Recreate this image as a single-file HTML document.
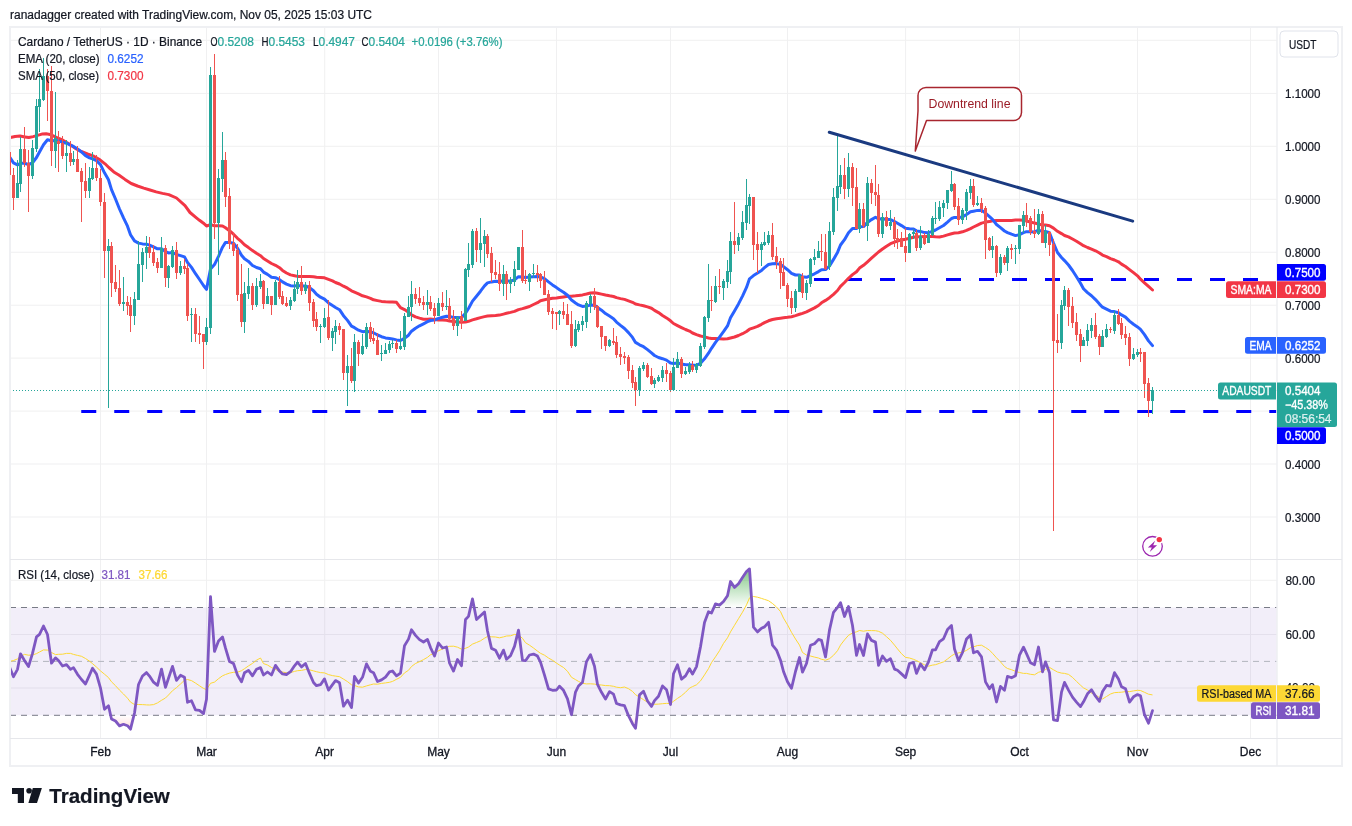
<!DOCTYPE html><html><head><meta charset="utf-8"><title>chart</title><style>html,body{margin:0;padding:0;background:#fff}body{width:1352px;height:826px;overflow:hidden;font-family:"Liberation Sans",sans-serif}svg{-webkit-font-smoothing:antialiased;will-change:transform}</style></head><body><svg width="1352" height="826" viewBox="0 0 1352 826" style="display:block"><defs><clipPath id="mp"><rect x="10" y="27" width="1266.5" height="532"/></clipPath><clipPath id="rp"><rect x="10" y="560" width="1266.5" height="178"/></clipPath><clipPath id="obc"><rect x="10" y="560" width="1266.5" height="47.5"/></clipPath><clipPath id="osc"><rect x="10" y="715.3" width="1266.5" height="23"/></clipPath><linearGradient id="ob" gradientUnits="userSpaceOnUse" x1="0" y1="566" x2="0" y2="607.5"><stop offset="0" stop-color="#4caf50" stop-opacity="0.75"/><stop offset="1" stop-color="#4caf50" stop-opacity="0.0"/></linearGradient><linearGradient id="os" gradientUnits="userSpaceOnUse" x1="0" y1="715.3" x2="0" y2="738"><stop offset="0" stop-color="#ff5252" stop-opacity="0.0"/><stop offset="1" stop-color="#ff5252" stop-opacity="0.35"/></linearGradient></defs><rect width="1352" height="826" fill="#fff"/><text x="10" y="19" font-family="Liberation Sans, sans-serif" font-size="12" fill="#131722" stroke="#131722" stroke-width="0.22" textLength="362" lengthAdjust="spacingAndGlyphs">ranadagger created with TradingView.com, Nov 05, 2025 15:03 UTC</text><rect x="100.0" y="27" width="1" height="711.5" fill="#f0f0f1"/><rect x="206.0" y="27" width="1" height="711.5" fill="#f0f0f1"/><rect x="324.2" y="27" width="1" height="711.5" fill="#f0f0f1"/><rect x="438.0" y="27" width="1" height="711.5" fill="#f0f0f1"/><rect x="556.0" y="27" width="1" height="711.5" fill="#f0f0f1"/><rect x="670.0" y="27" width="1" height="711.5" fill="#f0f0f1"/><rect x="787.0" y="27" width="1" height="711.5" fill="#f0f0f1"/><rect x="905.1" y="27" width="1" height="711.5" fill="#f0f0f1"/><rect x="1019.0" y="27" width="1" height="711.5" fill="#f0f0f1"/><rect x="1137.0" y="27" width="1" height="711.5" fill="#f0f0f1"/><rect x="1250.0" y="27" width="1" height="711.5" fill="#f0f0f1"/><rect x="10" y="39.80" width="1266.5" height="1" fill="#f0f0f1"/><rect x="10" y="92.90" width="1266.5" height="1" fill="#f0f0f1"/><rect x="10" y="145.80" width="1266.5" height="1" fill="#f0f0f1"/><rect x="10" y="198.80" width="1266.5" height="1" fill="#f0f0f1"/><rect x="10" y="251.75" width="1266.5" height="1" fill="#f0f0f1"/><rect x="10" y="304.70" width="1266.5" height="1" fill="#f0f0f1"/><rect x="10" y="357.60" width="1266.5" height="1" fill="#f0f0f1"/><rect x="10" y="410.60" width="1266.5" height="1" fill="#f0f0f1"/><rect x="10" y="463.50" width="1266.5" height="1" fill="#f0f0f1"/><rect x="10" y="516.50" width="1266.5" height="1" fill="#f0f0f1"/><rect x="10" y="579.80" width="1266.5" height="1" fill="#f0f0f1"/><rect x="10" y="634.00" width="1266.5" height="1" fill="#f0f0f1"/><rect x="10" y="687.50" width="1266.5" height="1" fill="#f0f0f1"/><rect x="10" y="607.5" width="1266.5" height="107.8" fill="#7e57c2" fill-opacity="0.1"/><line x1="10" x2="1276.5" y1="607.5" y2="607.5" stroke="#787b86" stroke-width="1" stroke-dasharray="6,5"/><line x1="10" x2="1276.5" y1="661.4" y2="661.4" stroke="#b2b5be" stroke-width="1" stroke-dasharray="6,5"/><line x1="10" x2="1276.5" y1="715.3" y2="715.3" stroke="#787b86" stroke-width="1" stroke-dasharray="6,5"/><g clip-path="url(#mp)"><line x1="81.25" x2="1276.5" y1="411.4" y2="411.4" stroke="#0000ff" stroke-width="3" stroke-dasharray="15,18"/><line x1="814" x2="1258" y1="279.6" y2="279.6" stroke="#0000ff" stroke-width="3" stroke-dasharray="15,18"/><path d="M10.4,137.5 L15.0,136.5 L20.0,136.0 L25.0,136.9 L28.8,137.5 L33.1,136.6 L37.5,135.4 L41.9,134.1 L46.2,133.8 L50.0,134.4 L53.8,136.2 L58.8,138.5 L62.5,140.0 L68.8,143.8 L75.0,148.1 L81.2,151.5 L87.5,154.0 L93.8,156.2 L100.0,159.8 L105.0,163.8 L108.8,167.5 L113.8,171.9 L118.8,175.0 L125.0,179.4 L131.2,183.5 L137.5,186.0 L143.8,188.1 L150.0,190.0 L156.2,191.9 L162.5,193.4 L168.8,194.6 L176.5,198.0 L185.0,205.6 L190.0,212.5 L195.5,217.1 L199.5,220.3 L203.5,223.2 L206.5,226.0 L210.5,224.6 L214.5,225.7 L218.5,225.8 L222.5,226.0 L225.5,227.8 L229.5,230.7 L233.5,234.2 L237.5,238.3 L241.5,241.7 L244.5,244.8 L248.5,247.6 L252.5,250.6 L256.5,253.3 L260.5,255.7 L263.5,258.5 L267.5,261.0 L271.5,263.5 L275.5,265.3 L279.5,267.7 L282.5,270.4 L286.5,273.0 L290.5,274.9 L294.5,275.7 L297.5,276.4 L301.5,276.6 L305.5,276.5 L309.5,276.5 L313.5,276.8 L316.5,277.3 L320.5,277.4 L324.5,277.8 L328.5,279.3 L332.5,280.9 L335.5,282.5 L339.5,284.0 L343.5,286.2 L347.5,288.2 L351.5,290.8 L354.5,292.1 L358.5,293.9 L362.5,295.8 L366.5,296.9 L370.5,298.3 L373.5,299.8 L377.5,300.6 L381.5,301.4 L385.5,301.7 L389.5,301.9 L392.5,301.9 L396.5,302.3 L400.5,307.7 L404.5,309.6 L408.5,312.2 L411.5,314.9 L415.5,316.9 L419.5,318.1 L423.5,319.2 L427.5,319.3 L430.5,319.1 L434.5,319.5 L438.5,319.9 L442.5,319.9 L446.5,320.3 L449.5,321.1 L453.5,321.5 L457.5,321.9 L461.5,322.3 L465.5,322.0 L468.5,321.3 L472.5,319.9 L476.5,318.8 L480.5,317.6 L484.5,316.6 L487.5,316.0 L491.5,315.7 L495.5,315.5 L499.5,315.1 L503.5,314.1 L506.5,313.3 L510.5,312.4 L514.5,311.4 L518.5,309.6 L522.5,308.6 L525.5,307.7 L529.5,306.5 L533.5,304.5 L537.5,302.7 L540.5,300.7 L544.5,299.8 L548.5,298.9 L552.5,298.3 L556.5,298.0 L559.5,297.5 L563.5,296.9 L567.5,296.3 L571.5,296.2 L575.5,295.8 L578.5,295.4 L582.5,294.9 L586.5,294.0 L590.5,293.0 L594.5,292.8 L597.5,293.2 L601.5,294.1 L605.5,295.0 L609.5,295.8 L613.5,296.5 L616.5,297.6 L620.5,298.6 L624.5,299.4 L628.5,300.8 L632.5,302.3 L635.5,304.0 L639.5,304.9 L643.5,305.7 L647.5,306.9 L651.5,308.2 L654.5,310.4 L658.5,312.6 L662.5,315.4 L666.5,317.9 L670.5,320.8 L673.5,323.5 L677.5,325.6 L681.5,327.6 L685.5,329.5 L689.5,331.1 L692.5,333.0 L696.5,334.6 L700.5,336.0 L704.5,336.9 L708.5,338.0 L711.5,338.4 L715.5,338.5 L719.5,338.7 L723.5,338.9 L727.5,338.8 L730.5,338.0 L734.5,337.0 L738.5,335.5 L742.5,333.7 L746.5,331.5 L749.5,329.2 L753.5,327.8 L757.5,326.4 L761.5,324.3 L764.5,322.6 L768.5,320.8 L772.5,319.5 L776.5,318.7 L780.5,318.2 L783.5,317.8 L787.5,317.3 L791.5,316.7 L795.5,315.6 L799.5,314.3 L802.5,313.3 L806.5,311.8 L810.5,309.9 L814.5,307.9 L818.5,305.5 L821.5,302.8 L825.5,300.4 L829.5,297.7 L833.5,294.3 L837.5,290.5 L840.5,286.3 L844.5,282.5 L848.5,278.3 L852.5,274.6 L856.5,271.7 L859.5,268.1 L863.5,265.3 L867.5,261.8 L871.5,258.2 L875.5,254.7 L878.5,252.0 L882.5,249.0 L886.5,246.2 L890.5,243.7 L894.5,242.2 L897.5,241.0 L901.5,239.9 L905.5,239.2 L909.5,238.2 L913.5,237.2 L916.5,236.8 L920.5,236.7 L924.5,236.6 L928.5,236.6 L932.5,236.5 L935.5,236.8 L939.5,237.0 L943.5,236.1 L947.5,234.9 L951.5,233.7 L954.5,233.0 L958.5,232.7 L962.5,231.8 L966.5,230.4 L970.5,228.6 L973.5,227.0 L977.5,225.1 L981.5,223.1 L985.5,222.1 L989.5,221.6 L992.5,220.7 L996.5,220.5 L1000.5,220.4 L1004.5,220.5 L1007.5,220.5 L1011.5,220.4 L1015.5,220.0 L1019.5,219.9 L1023.5,220.3 L1026.5,221.0 L1030.5,222.1 L1034.5,223.0 L1038.5,224.0 L1042.5,225.1 L1045.5,225.1 L1049.5,225.8 L1053.5,228.1 L1057.5,231.3 L1061.5,233.6 L1064.5,235.5 L1068.5,236.9 L1072.5,239.0 L1076.5,241.2 L1080.5,243.7 L1083.5,245.7 L1087.5,247.5 L1091.5,249.1 L1095.5,250.8 L1099.5,253.0 L1102.5,255.1 L1106.5,256.7 L1110.5,258.6 L1114.5,260.0 L1118.5,261.8 L1121.5,264.1 L1125.5,266.5 L1129.5,269.6 L1133.5,272.6 L1137.5,275.8 L1140.5,279.2 L1144.5,282.8 L1148.5,286.4 L1152.5,290.0" fill="none" stroke="#f23645" stroke-width="3" stroke-linejoin="round" stroke-linecap="round"/><path d="M10.0,157.5 L13.5,162.8 L17.5,164.8 L20.5,163.3 L24.5,163.2 L28.5,164.5 L32.5,162.9 L36.5,157.5 L39.5,152.0 L43.5,144.8 L47.5,139.7 L51.5,140.7 L55.5,140.5 L58.5,140.8 L62.5,142.2 L66.5,143.2 L70.5,145.1 L73.5,146.4 L77.5,148.9 L81.5,152.0 L85.5,155.7 L89.5,157.8 L92.5,158.8 L96.5,160.6 L100.5,164.6 L104.5,172.8 L108.5,179.8 L111.5,189.6 L115.5,199.0 L119.5,209.0 L123.5,217.9 L127.5,226.2 L130.5,234.8 L134.5,240.9 L138.5,243.1 L142.5,243.9 L146.5,244.3 L149.5,245.1 L153.5,246.8 L157.5,248.8 L161.5,248.7 L165.5,251.5 L168.5,252.9 L172.5,252.6 L176.5,254.5 L180.5,255.6 L184.5,256.9 L187.5,262.5 L191.5,267.4 L195.5,273.7 L199.5,279.5 L203.5,285.5 L206.5,289.4 L210.5,269.0 L214.5,264.6 L218.5,256.3 L222.5,247.2 L225.5,242.4 L229.5,242.5 L233.5,243.3 L237.5,248.2 L241.5,255.2 L244.5,258.8 L248.5,261.4 L252.5,265.5 L256.5,267.5 L260.5,268.8 L263.5,272.1 L267.5,274.4 L271.5,277.3 L275.5,277.7 L279.5,279.6 L282.5,281.9 L286.5,284.1 L290.5,285.7 L294.5,285.9 L297.5,285.6 L301.5,286.1 L305.5,286.0 L309.5,287.6 L313.5,290.7 L316.5,294.2 L320.5,297.2 L324.5,299.2 L328.5,302.9 L332.5,305.6 L335.5,307.5 L339.5,309.7 L343.5,315.7 L347.5,320.4 L351.5,326.2 L354.5,327.7 L358.5,330.2 L362.5,331.7 L366.5,331.3 L370.5,332.0 L373.5,332.8 L377.5,335.0 L381.5,336.7 L385.5,337.9 L389.5,338.5 L392.5,338.9 L396.5,339.9 L400.5,340.5 L404.5,338.2 L408.5,335.2 L411.5,331.2 L415.5,328.2 L419.5,325.8 L423.5,323.8 L427.5,321.7 L430.5,320.5 L434.5,320.0 L438.5,318.4 L442.5,317.3 L446.5,316.2 L449.5,316.5 L453.5,317.4 L457.5,317.4 L461.5,317.8 L465.5,313.1 L468.5,308.5 L472.5,301.1 L476.5,296.2 L480.5,291.2 L484.5,285.9 L487.5,282.9 L491.5,281.9 L495.5,281.3 L499.5,281.5 L503.5,280.8 L506.5,281.1 L510.5,281.0 L514.5,279.9 L518.5,276.7 L522.5,277.1 L525.5,277.5 L529.5,277.1 L533.5,276.7 L537.5,276.6 L540.5,277.0 L544.5,278.7 L548.5,281.9 L552.5,284.9 L556.5,287.6 L559.5,289.8 L563.5,292.2 L567.5,295.3 L571.5,300.1 L575.5,302.9 L578.5,304.9 L582.5,306.4 L586.5,306.1 L590.5,305.1 L594.5,305.3 L597.5,307.4 L601.5,310.2 L605.5,313.6 L609.5,316.1 L613.5,318.7 L616.5,322.1 L620.5,325.4 L624.5,328.5 L628.5,332.6 L632.5,337.4 L635.5,342.4 L639.5,344.8 L643.5,346.7 L647.5,349.6 L651.5,352.9 L654.5,355.5 L658.5,357.5 L662.5,358.7 L666.5,360.1 L670.5,363.0 L673.5,363.4 L677.5,363.0 L681.5,364.0 L685.5,364.7 L689.5,364.7 L692.5,365.2 L696.5,365.1 L700.5,363.3 L704.5,358.8 L708.5,353.2 L711.5,348.3 L715.5,342.3 L719.5,337.1 L723.5,331.7 L727.5,325.9 L730.5,317.8 L734.5,310.9 L738.5,303.9 L742.5,296.1 L746.5,287.4 L749.5,278.8 L753.5,275.6 L757.5,273.1 L761.5,270.4 L764.5,267.7 L768.5,264.5 L772.5,263.8 L776.5,263.6 L780.5,264.5 L783.5,266.6 L787.5,269.7 L791.5,273.3 L795.5,275.0 L799.5,275.0 L802.5,276.7 L806.5,277.3 L810.5,275.6 L814.5,273.8 L818.5,271.6 L821.5,269.7 L825.5,269.6 L829.5,266.0 L833.5,259.4 L837.5,252.4 L840.5,245.0 L844.5,239.7 L848.5,232.8 L852.5,228.5 L856.5,228.5 L859.5,226.7 L863.5,226.6 L867.5,222.4 L871.5,219.6 L875.5,217.3 L878.5,218.9 L882.5,218.7 L886.5,219.4 L890.5,219.6 L894.5,221.5 L897.5,223.3 L901.5,225.6 L905.5,228.2 L909.5,228.7 L913.5,229.1 L916.5,230.9 L920.5,231.4 L924.5,232.6 L928.5,232.7 L932.5,231.3 L935.5,230.0 L939.5,227.8 L943.5,225.5 L947.5,222.1 L951.5,218.5 L954.5,217.4 L958.5,217.6 L962.5,216.9 L966.5,214.5 L970.5,211.8 L973.5,211.2 L977.5,210.4 L981.5,210.2 L985.5,213.1 L989.5,216.6 L992.5,219.4 L996.5,224.5 L1000.5,227.6 L1004.5,231.0 L1007.5,232.6 L1011.5,234.2 L1015.5,235.6 L1019.5,234.6 L1023.5,232.7 L1026.5,231.7 L1030.5,231.7 L1034.5,231.9 L1038.5,230.2 L1042.5,231.4 L1045.5,231.4 L1049.5,232.7 L1053.5,243.0 L1057.5,252.5 L1061.5,257.5 L1064.5,260.6 L1068.5,265.0 L1072.5,270.5 L1076.5,276.7 L1080.5,283.3 L1083.5,288.7 L1087.5,292.6 L1091.5,295.7 L1095.5,299.6 L1099.5,304.1 L1102.5,307.2 L1106.5,309.2 L1110.5,311.2 L1114.5,311.6 L1118.5,312.8 L1121.5,314.9 L1125.5,317.1 L1129.5,321.1 L1133.5,324.2 L1137.5,326.9 L1140.5,329.4 L1144.5,334.6 L1148.5,340.9 L1152.5,345.6" fill="none" stroke="#2962ff" stroke-width="3" stroke-linejoin="round" stroke-linecap="round"/><rect x="9.0" y="152" width="1" height="23" fill="#ef5350"/><rect x="8.0" y="152" width="3" height="23" fill="#ef5350"/><rect x="13.0" y="168" width="1" height="42" fill="#ef5350"/><rect x="12.0" y="175" width="3" height="23" fill="#ef5350"/><rect x="17.0" y="160" width="1" height="38" fill="#26a69a"/><rect x="16.0" y="183" width="3" height="15" fill="#26a69a"/><rect x="20.0" y="137" width="1" height="55" fill="#26a69a"/><rect x="19.0" y="149" width="3" height="35" fill="#26a69a"/><rect x="24.0" y="127" width="1" height="40" fill="#ef5350"/><rect x="23.0" y="149" width="3" height="14" fill="#ef5350"/><rect x="28.0" y="150" width="1" height="62" fill="#ef5350"/><rect x="27.0" y="163" width="3" height="13" fill="#ef5350"/><rect x="32.0" y="140" width="1" height="39" fill="#26a69a"/><rect x="31.0" y="148" width="3" height="28" fill="#26a69a"/><rect x="36.0" y="99" width="1" height="53" fill="#26a69a"/><rect x="35.0" y="106" width="3" height="43" fill="#26a69a"/><rect x="39.0" y="69" width="1" height="63" fill="#26a69a"/><rect x="38.0" y="99" width="3" height="8" fill="#26a69a"/><rect x="43.0" y="58" width="1" height="43" fill="#26a69a"/><rect x="42.0" y="76" width="3" height="24" fill="#26a69a"/><rect x="47.0" y="69" width="1" height="52" fill="#ef5350"/><rect x="46.0" y="76" width="3" height="15" fill="#ef5350"/><rect x="51.0" y="66" width="1" height="100" fill="#ef5350"/><rect x="50.0" y="91" width="3" height="60" fill="#ef5350"/><rect x="55.0" y="92" width="1" height="76" fill="#26a69a"/><rect x="54.0" y="138" width="3" height="13" fill="#26a69a"/><rect x="58.0" y="131" width="1" height="41" fill="#ef5350"/><rect x="57.0" y="141" width="3" height="3" fill="#ef5350"/><rect x="62.0" y="136" width="1" height="23" fill="#ef5350"/><rect x="61.0" y="143" width="3" height="13" fill="#ef5350"/><rect x="66.0" y="140" width="1" height="32" fill="#26a69a"/><rect x="65.0" y="153" width="3" height="3" fill="#26a69a"/><rect x="70.0" y="141" width="1" height="25" fill="#ef5350"/><rect x="69.0" y="153" width="3" height="9" fill="#ef5350"/><rect x="73.0" y="151" width="1" height="14" fill="#26a69a"/><rect x="72.0" y="159" width="3" height="3" fill="#26a69a"/><rect x="77.0" y="146" width="1" height="26" fill="#ef5350"/><rect x="76.0" y="159" width="3" height="13" fill="#ef5350"/><rect x="81.0" y="168" width="1" height="54" fill="#ef5350"/><rect x="80.0" y="171" width="3" height="11" fill="#ef5350"/><rect x="85.0" y="163" width="1" height="35" fill="#ef5350"/><rect x="84.0" y="181" width="3" height="10" fill="#ef5350"/><rect x="89.0" y="167" width="1" height="31" fill="#26a69a"/><rect x="88.0" y="178" width="3" height="13" fill="#26a69a"/><rect x="92.0" y="152" width="1" height="28" fill="#26a69a"/><rect x="91.0" y="168" width="3" height="11" fill="#26a69a"/><rect x="96.0" y="155" width="1" height="26" fill="#ef5350"/><rect x="95.0" y="168" width="3" height="10" fill="#ef5350"/><rect x="100.0" y="169" width="1" height="37" fill="#ef5350"/><rect x="99.0" y="178" width="3" height="24" fill="#ef5350"/><rect x="104.0" y="193" width="1" height="85" fill="#ef5350"/><rect x="103.0" y="202" width="3" height="49" fill="#ef5350"/><rect x="108.0" y="239" width="1" height="169" fill="#26a69a"/><rect x="107.0" y="246" width="3" height="5" fill="#26a69a"/><rect x="111.0" y="242" width="1" height="55" fill="#ef5350"/><rect x="110.0" y="246" width="3" height="37" fill="#ef5350"/><rect x="115.0" y="265" width="1" height="27" fill="#ef5350"/><rect x="114.0" y="282" width="3" height="7" fill="#ef5350"/><rect x="119.0" y="270" width="1" height="36" fill="#ef5350"/><rect x="118.0" y="288" width="3" height="16" fill="#ef5350"/><rect x="123.0" y="277" width="1" height="34" fill="#26a69a"/><rect x="122.0" y="302" width="3" height="2" fill="#26a69a"/><rect x="127.0" y="296" width="1" height="19" fill="#ef5350"/><rect x="126.0" y="302" width="3" height="4" fill="#ef5350"/><rect x="130.0" y="297" width="1" height="35" fill="#ef5350"/><rect x="129.0" y="305" width="3" height="11" fill="#ef5350"/><rect x="134.0" y="292" width="1" height="33" fill="#26a69a"/><rect x="133.0" y="299" width="3" height="17" fill="#26a69a"/><rect x="138.0" y="241" width="1" height="59" fill="#26a69a"/><rect x="137.0" y="264" width="3" height="36" fill="#26a69a"/><rect x="142.0" y="248" width="1" height="34" fill="#26a69a"/><rect x="141.0" y="252" width="3" height="13" fill="#26a69a"/><rect x="146.0" y="236" width="1" height="33" fill="#26a69a"/><rect x="145.0" y="247" width="3" height="6" fill="#26a69a"/><rect x="149.0" y="237" width="1" height="21" fill="#ef5350"/><rect x="148.0" y="247" width="3" height="6" fill="#ef5350"/><rect x="153.0" y="245" width="1" height="21" fill="#ef5350"/><rect x="152.0" y="252" width="3" height="11" fill="#ef5350"/><rect x="157.0" y="258" width="1" height="15" fill="#ef5350"/><rect x="156.0" y="262" width="3" height="6" fill="#ef5350"/><rect x="161.0" y="237" width="1" height="31" fill="#26a69a"/><rect x="160.0" y="248" width="3" height="20" fill="#26a69a"/><rect x="165.0" y="245" width="1" height="42" fill="#ef5350"/><rect x="164.0" y="248" width="3" height="30" fill="#ef5350"/><rect x="168.0" y="265" width="1" height="23" fill="#26a69a"/><rect x="167.0" y="266" width="3" height="12" fill="#26a69a"/><rect x="172.0" y="246" width="1" height="22" fill="#26a69a"/><rect x="171.0" y="250" width="3" height="17" fill="#26a69a"/><rect x="176.0" y="242" width="1" height="37" fill="#ef5350"/><rect x="175.0" y="250" width="3" height="23" fill="#ef5350"/><rect x="180.0" y="261" width="1" height="14" fill="#26a69a"/><rect x="179.0" y="266" width="3" height="7" fill="#26a69a"/><rect x="184.0" y="259" width="1" height="15" fill="#ef5350"/><rect x="183.0" y="266" width="3" height="3" fill="#ef5350"/><rect x="187.0" y="264" width="1" height="57" fill="#ef5350"/><rect x="186.0" y="268" width="3" height="48" fill="#ef5350"/><rect x="191.0" y="308" width="1" height="34" fill="#26a69a"/><rect x="190.0" y="314" width="3" height="1" fill="#26a69a"/><rect x="195.0" y="308" width="1" height="34" fill="#ef5350"/><rect x="194.0" y="314" width="3" height="20" fill="#ef5350"/><rect x="199.0" y="316" width="1" height="28" fill="#ef5350"/><rect x="198.0" y="333" width="3" height="2" fill="#ef5350"/><rect x="203.0" y="334" width="1" height="35" fill="#ef5350"/><rect x="202.0" y="334" width="3" height="8" fill="#ef5350"/><rect x="206.0" y="318" width="1" height="27" fill="#26a69a"/><rect x="205.0" y="327" width="3" height="15" fill="#26a69a"/><rect x="210.0" y="67" width="1" height="267" fill="#26a69a"/><rect x="209.0" y="75" width="3" height="253" fill="#26a69a"/><rect x="214.0" y="54" width="1" height="185" fill="#ef5350"/><rect x="213.0" y="75" width="3" height="148" fill="#ef5350"/><rect x="218.0" y="169" width="1" height="106" fill="#26a69a"/><rect x="217.0" y="178" width="3" height="45" fill="#26a69a"/><rect x="222.0" y="132" width="1" height="60" fill="#26a69a"/><rect x="221.0" y="160" width="3" height="19" fill="#26a69a"/><rect x="225.0" y="152" width="1" height="55" fill="#ef5350"/><rect x="224.0" y="160" width="3" height="37" fill="#ef5350"/><rect x="229.0" y="188" width="1" height="61" fill="#ef5350"/><rect x="228.0" y="196" width="3" height="48" fill="#ef5350"/><rect x="233.0" y="233" width="1" height="23" fill="#ef5350"/><rect x="232.0" y="243" width="3" height="8" fill="#ef5350"/><rect x="237.0" y="244" width="1" height="57" fill="#ef5350"/><rect x="236.0" y="250" width="3" height="45" fill="#ef5350"/><rect x="241.0" y="264" width="1" height="63" fill="#ef5350"/><rect x="240.0" y="294" width="3" height="28" fill="#ef5350"/><rect x="244.0" y="282" width="1" height="51" fill="#26a69a"/><rect x="243.0" y="293" width="3" height="29" fill="#26a69a"/><rect x="248.0" y="268" width="1" height="31" fill="#26a69a"/><rect x="247.0" y="286" width="3" height="8" fill="#26a69a"/><rect x="252.0" y="283" width="1" height="27" fill="#ef5350"/><rect x="251.0" y="286" width="3" height="19" fill="#ef5350"/><rect x="256.0" y="278" width="1" height="29" fill="#26a69a"/><rect x="255.0" y="286" width="3" height="19" fill="#26a69a"/><rect x="260.0" y="274" width="1" height="15" fill="#26a69a"/><rect x="259.0" y="281" width="3" height="6" fill="#26a69a"/><rect x="263.0" y="280" width="1" height="29" fill="#ef5350"/><rect x="262.0" y="281" width="3" height="23" fill="#ef5350"/><rect x="267.0" y="288" width="1" height="16" fill="#26a69a"/><rect x="266.0" y="296" width="3" height="8" fill="#26a69a"/><rect x="271.0" y="296" width="1" height="19" fill="#ef5350"/><rect x="270.0" y="296" width="3" height="9" fill="#ef5350"/><rect x="275.0" y="280" width="1" height="25" fill="#26a69a"/><rect x="274.0" y="282" width="3" height="23" fill="#26a69a"/><rect x="279.0" y="276" width="1" height="23" fill="#ef5350"/><rect x="278.0" y="282" width="3" height="15" fill="#ef5350"/><rect x="282.0" y="291" width="1" height="14" fill="#ef5350"/><rect x="281.0" y="296" width="3" height="8" fill="#ef5350"/><rect x="286.0" y="297" width="1" height="10" fill="#ef5350"/><rect x="285.0" y="303" width="3" height="3" fill="#ef5350"/><rect x="290.0" y="297" width="1" height="13" fill="#26a69a"/><rect x="289.0" y="300" width="3" height="6" fill="#26a69a"/><rect x="294.0" y="281" width="1" height="21" fill="#26a69a"/><rect x="293.0" y="289" width="3" height="12" fill="#26a69a"/><rect x="297.0" y="270" width="1" height="24" fill="#26a69a"/><rect x="296.0" y="282" width="3" height="7" fill="#26a69a"/><rect x="301.0" y="266" width="1" height="29" fill="#ef5350"/><rect x="300.0" y="282" width="3" height="9" fill="#ef5350"/><rect x="305.0" y="282" width="1" height="12" fill="#26a69a"/><rect x="304.0" y="285" width="3" height="6" fill="#26a69a"/><rect x="309.0" y="281" width="1" height="30" fill="#ef5350"/><rect x="308.0" y="285" width="3" height="18" fill="#ef5350"/><rect x="313.0" y="299" width="1" height="28" fill="#ef5350"/><rect x="312.0" y="302" width="3" height="19" fill="#ef5350"/><rect x="316.0" y="312" width="1" height="19" fill="#ef5350"/><rect x="315.0" y="319" width="3" height="8" fill="#ef5350"/><rect x="320.0" y="324" width="1" height="19" fill="#26a69a"/><rect x="319.0" y="326" width="3" height="1" fill="#26a69a"/><rect x="324.0" y="308" width="1" height="20" fill="#26a69a"/><rect x="323.0" y="318" width="3" height="9" fill="#26a69a"/><rect x="328.0" y="300" width="1" height="40" fill="#ef5350"/><rect x="327.0" y="317" width="3" height="21" fill="#ef5350"/><rect x="332.0" y="328" width="1" height="23" fill="#26a69a"/><rect x="331.0" y="331" width="3" height="7" fill="#26a69a"/><rect x="335.0" y="320" width="1" height="24" fill="#26a69a"/><rect x="334.0" y="326" width="3" height="6" fill="#26a69a"/><rect x="339.0" y="323" width="1" height="12" fill="#ef5350"/><rect x="338.0" y="326" width="3" height="4" fill="#ef5350"/><rect x="343.0" y="329" width="1" height="51" fill="#ef5350"/><rect x="342.0" y="329" width="3" height="44" fill="#ef5350"/><rect x="347.0" y="355" width="1" height="51" fill="#26a69a"/><rect x="346.0" y="366" width="3" height="7" fill="#26a69a"/><rect x="351.0" y="348" width="1" height="35" fill="#ef5350"/><rect x="350.0" y="366" width="3" height="15" fill="#ef5350"/><rect x="354.0" y="334" width="1" height="58" fill="#26a69a"/><rect x="353.0" y="342" width="3" height="39" fill="#26a69a"/><rect x="358.0" y="340" width="1" height="26" fill="#ef5350"/><rect x="357.0" y="342" width="3" height="12" fill="#ef5350"/><rect x="362.0" y="334" width="1" height="21" fill="#26a69a"/><rect x="361.0" y="346" width="3" height="8" fill="#26a69a"/><rect x="366.0" y="323" width="1" height="26" fill="#26a69a"/><rect x="365.0" y="327" width="3" height="20" fill="#26a69a"/><rect x="370.0" y="322" width="1" height="20" fill="#ef5350"/><rect x="369.0" y="327" width="3" height="12" fill="#ef5350"/><rect x="373.0" y="328" width="1" height="16" fill="#ef5350"/><rect x="372.0" y="338" width="3" height="3" fill="#ef5350"/><rect x="377.0" y="333" width="1" height="22" fill="#ef5350"/><rect x="376.0" y="340" width="3" height="15" fill="#ef5350"/><rect x="381.0" y="345" width="1" height="16" fill="#26a69a"/><rect x="380.0" y="353" width="3" height="1" fill="#26a69a"/><rect x="385.0" y="343" width="1" height="11" fill="#26a69a"/><rect x="384.0" y="350" width="3" height="4" fill="#26a69a"/><rect x="389.0" y="341" width="1" height="12" fill="#26a69a"/><rect x="388.0" y="344" width="3" height="6" fill="#26a69a"/><rect x="392.0" y="340" width="1" height="8" fill="#26a69a"/><rect x="391.0" y="343" width="3" height="1" fill="#26a69a"/><rect x="396.0" y="340" width="1" height="13" fill="#ef5350"/><rect x="395.0" y="343" width="3" height="6" fill="#ef5350"/><rect x="400.0" y="331" width="1" height="19" fill="#26a69a"/><rect x="399.0" y="346" width="3" height="3" fill="#26a69a"/><rect x="404.0" y="313" width="1" height="37" fill="#26a69a"/><rect x="403.0" y="316" width="3" height="31" fill="#26a69a"/><rect x="408.0" y="296" width="1" height="21" fill="#26a69a"/><rect x="407.0" y="307" width="3" height="10" fill="#26a69a"/><rect x="411.0" y="281" width="1" height="40" fill="#26a69a"/><rect x="410.0" y="294" width="3" height="13" fill="#26a69a"/><rect x="415.0" y="288" width="1" height="16" fill="#ef5350"/><rect x="414.0" y="294" width="3" height="5" fill="#ef5350"/><rect x="419.0" y="287" width="1" height="19" fill="#ef5350"/><rect x="418.0" y="298" width="3" height="5" fill="#ef5350"/><rect x="423.0" y="296" width="1" height="14" fill="#ef5350"/><rect x="422.0" y="302" width="3" height="3" fill="#ef5350"/><rect x="427.0" y="290" width="1" height="25" fill="#26a69a"/><rect x="426.0" y="302" width="3" height="3" fill="#26a69a"/><rect x="430.0" y="296" width="1" height="15" fill="#ef5350"/><rect x="429.0" y="302" width="3" height="7" fill="#ef5350"/><rect x="434.0" y="303" width="1" height="21" fill="#ef5350"/><rect x="433.0" y="308" width="3" height="8" fill="#ef5350"/><rect x="438.0" y="298" width="1" height="18" fill="#26a69a"/><rect x="437.0" y="303" width="3" height="13" fill="#26a69a"/><rect x="442.0" y="292" width="1" height="19" fill="#ef5350"/><rect x="441.0" y="303" width="3" height="4" fill="#ef5350"/><rect x="446.0" y="290" width="1" height="20" fill="#26a69a"/><rect x="445.0" y="306" width="3" height="1" fill="#26a69a"/><rect x="449.0" y="298" width="1" height="22" fill="#ef5350"/><rect x="448.0" y="306" width="3" height="13" fill="#ef5350"/><rect x="453.0" y="310" width="1" height="20" fill="#ef5350"/><rect x="452.0" y="318" width="3" height="8" fill="#ef5350"/><rect x="457.0" y="316" width="1" height="20" fill="#26a69a"/><rect x="456.0" y="317" width="3" height="9" fill="#26a69a"/><rect x="461.0" y="311" width="1" height="18" fill="#ef5350"/><rect x="460.0" y="316" width="3" height="6" fill="#ef5350"/><rect x="465.0" y="268" width="1" height="53" fill="#26a69a"/><rect x="464.0" y="269" width="3" height="52" fill="#26a69a"/><rect x="468.0" y="243" width="1" height="34" fill="#26a69a"/><rect x="467.0" y="264" width="3" height="6" fill="#26a69a"/><rect x="472.0" y="229" width="1" height="39" fill="#26a69a"/><rect x="471.0" y="231" width="3" height="34" fill="#26a69a"/><rect x="476.0" y="228" width="1" height="34" fill="#ef5350"/><rect x="475.0" y="231" width="3" height="19" fill="#ef5350"/><rect x="480.0" y="218" width="1" height="45" fill="#26a69a"/><rect x="479.0" y="243" width="3" height="7" fill="#26a69a"/><rect x="484.0" y="230" width="1" height="37" fill="#26a69a"/><rect x="483.0" y="236" width="3" height="8" fill="#26a69a"/><rect x="487.0" y="234" width="1" height="24" fill="#ef5350"/><rect x="486.0" y="236" width="3" height="18" fill="#ef5350"/><rect x="491.0" y="247" width="1" height="35" fill="#ef5350"/><rect x="490.0" y="253" width="3" height="20" fill="#ef5350"/><rect x="495.0" y="260" width="1" height="19" fill="#ef5350"/><rect x="494.0" y="272" width="3" height="3" fill="#ef5350"/><rect x="499.0" y="262" width="1" height="29" fill="#ef5350"/><rect x="498.0" y="274" width="3" height="10" fill="#ef5350"/><rect x="503.0" y="265" width="1" height="31" fill="#26a69a"/><rect x="502.0" y="274" width="3" height="10" fill="#26a69a"/><rect x="506.0" y="271" width="1" height="29" fill="#ef5350"/><rect x="505.0" y="274" width="3" height="10" fill="#ef5350"/><rect x="510.0" y="277" width="1" height="16" fill="#26a69a"/><rect x="509.0" y="280" width="3" height="4" fill="#26a69a"/><rect x="514.0" y="261" width="1" height="25" fill="#26a69a"/><rect x="513.0" y="269" width="3" height="13" fill="#26a69a"/><rect x="518.0" y="247" width="1" height="23" fill="#26a69a"/><rect x="517.0" y="247" width="3" height="23" fill="#26a69a"/><rect x="522.0" y="230" width="1" height="53" fill="#ef5350"/><rect x="521.0" y="247" width="3" height="34" fill="#ef5350"/><rect x="525.0" y="270" width="1" height="14" fill="#ef5350"/><rect x="524.0" y="280" width="3" height="1" fill="#ef5350"/><rect x="529.0" y="273" width="1" height="18" fill="#26a69a"/><rect x="528.0" y="274" width="3" height="8" fill="#26a69a"/><rect x="533.0" y="264" width="1" height="14" fill="#26a69a"/><rect x="532.0" y="273" width="3" height="1" fill="#26a69a"/><rect x="537.0" y="265" width="1" height="17" fill="#ef5350"/><rect x="536.0" y="273" width="3" height="2" fill="#ef5350"/><rect x="540.0" y="273" width="1" height="15" fill="#ef5350"/><rect x="539.0" y="274" width="3" height="7" fill="#ef5350"/><rect x="544.0" y="271" width="1" height="24" fill="#ef5350"/><rect x="543.0" y="280" width="3" height="15" fill="#ef5350"/><rect x="548.0" y="290" width="1" height="25" fill="#ef5350"/><rect x="547.0" y="294" width="3" height="18" fill="#ef5350"/><rect x="552.0" y="308" width="1" height="21" fill="#ef5350"/><rect x="551.0" y="311" width="3" height="3" fill="#ef5350"/><rect x="556.0" y="312" width="1" height="18" fill="#ef5350"/><rect x="555.0" y="312" width="3" height="2" fill="#ef5350"/><rect x="559.0" y="310" width="1" height="15" fill="#26a69a"/><rect x="558.0" y="311" width="3" height="3" fill="#26a69a"/><rect x="563.0" y="302" width="1" height="17" fill="#ef5350"/><rect x="562.0" y="311" width="3" height="4" fill="#ef5350"/><rect x="567.0" y="304" width="1" height="21" fill="#ef5350"/><rect x="566.0" y="314" width="3" height="11" fill="#ef5350"/><rect x="571.0" y="311" width="1" height="37" fill="#ef5350"/><rect x="570.0" y="324" width="3" height="22" fill="#ef5350"/><rect x="575.0" y="320" width="1" height="27" fill="#26a69a"/><rect x="574.0" y="329" width="3" height="17" fill="#26a69a"/><rect x="578.0" y="321" width="1" height="11" fill="#26a69a"/><rect x="577.0" y="324" width="3" height="6" fill="#26a69a"/><rect x="582.0" y="316" width="1" height="15" fill="#26a69a"/><rect x="581.0" y="321" width="3" height="4" fill="#26a69a"/><rect x="586.0" y="301" width="1" height="27" fill="#26a69a"/><rect x="585.0" y="303" width="3" height="19" fill="#26a69a"/><rect x="590.0" y="294" width="1" height="19" fill="#26a69a"/><rect x="589.0" y="296" width="3" height="8" fill="#26a69a"/><rect x="594.0" y="288" width="1" height="22" fill="#ef5350"/><rect x="593.0" y="296" width="3" height="11" fill="#ef5350"/><rect x="597.0" y="305" width="1" height="23" fill="#ef5350"/><rect x="596.0" y="306" width="3" height="21" fill="#ef5350"/><rect x="601.0" y="326" width="1" height="23" fill="#ef5350"/><rect x="600.0" y="326" width="3" height="11" fill="#ef5350"/><rect x="605.0" y="336" width="1" height="15" fill="#ef5350"/><rect x="604.0" y="336" width="3" height="10" fill="#ef5350"/><rect x="609.0" y="339" width="1" height="8" fill="#26a69a"/><rect x="608.0" y="340" width="3" height="6" fill="#26a69a"/><rect x="613.0" y="328" width="1" height="17" fill="#ef5350"/><rect x="612.0" y="341" width="3" height="2" fill="#ef5350"/><rect x="616.0" y="336" width="1" height="22" fill="#ef5350"/><rect x="615.0" y="342" width="3" height="13" fill="#ef5350"/><rect x="620.0" y="347" width="1" height="18" fill="#ef5350"/><rect x="619.0" y="354" width="3" height="3" fill="#ef5350"/><rect x="624.0" y="352" width="1" height="12" fill="#ef5350"/><rect x="623.0" y="356" width="3" height="2" fill="#ef5350"/><rect x="628.0" y="355" width="1" height="24" fill="#ef5350"/><rect x="627.0" y="357" width="3" height="14" fill="#ef5350"/><rect x="632.0" y="365" width="1" height="23" fill="#ef5350"/><rect x="631.0" y="370" width="3" height="13" fill="#ef5350"/><rect x="635.0" y="377" width="1" height="29" fill="#ef5350"/><rect x="634.0" y="382" width="3" height="8" fill="#ef5350"/><rect x="639.0" y="366" width="1" height="30" fill="#26a69a"/><rect x="638.0" y="368" width="3" height="22" fill="#26a69a"/><rect x="643.0" y="362" width="1" height="9" fill="#26a69a"/><rect x="642.0" y="365" width="3" height="4" fill="#26a69a"/><rect x="647.0" y="363" width="1" height="15" fill="#ef5350"/><rect x="646.0" y="365" width="3" height="12" fill="#ef5350"/><rect x="651.0" y="368" width="1" height="17" fill="#ef5350"/><rect x="650.0" y="376" width="3" height="8" fill="#ef5350"/><rect x="654.0" y="378" width="1" height="10" fill="#26a69a"/><rect x="653.0" y="380" width="3" height="4" fill="#26a69a"/><rect x="658.0" y="375" width="1" height="7" fill="#26a69a"/><rect x="657.0" y="377" width="3" height="4" fill="#26a69a"/><rect x="662.0" y="366" width="1" height="16" fill="#26a69a"/><rect x="661.0" y="370" width="3" height="8" fill="#26a69a"/><rect x="666.0" y="363" width="1" height="19" fill="#ef5350"/><rect x="665.0" y="370" width="3" height="4" fill="#ef5350"/><rect x="670.0" y="371" width="1" height="21" fill="#ef5350"/><rect x="669.0" y="373" width="3" height="17" fill="#ef5350"/><rect x="673.0" y="358" width="1" height="33" fill="#26a69a"/><rect x="672.0" y="367" width="3" height="23" fill="#26a69a"/><rect x="677.0" y="352" width="1" height="16" fill="#26a69a"/><rect x="676.0" y="359" width="3" height="9" fill="#26a69a"/><rect x="681.0" y="357" width="1" height="21" fill="#ef5350"/><rect x="680.0" y="359" width="3" height="15" fill="#ef5350"/><rect x="685.0" y="367" width="1" height="8" fill="#26a69a"/><rect x="684.0" y="371" width="3" height="3" fill="#26a69a"/><rect x="689.0" y="362" width="1" height="12" fill="#26a69a"/><rect x="688.0" y="365" width="3" height="7" fill="#26a69a"/><rect x="692.0" y="361" width="1" height="11" fill="#ef5350"/><rect x="691.0" y="365" width="3" height="5" fill="#ef5350"/><rect x="696.0" y="363" width="1" height="10" fill="#26a69a"/><rect x="695.0" y="364" width="3" height="6" fill="#26a69a"/><rect x="700.0" y="343" width="1" height="24" fill="#26a69a"/><rect x="699.0" y="346" width="3" height="20" fill="#26a69a"/><rect x="704.0" y="316" width="1" height="33" fill="#26a69a"/><rect x="703.0" y="317" width="3" height="30" fill="#26a69a"/><rect x="708.0" y="264" width="1" height="58" fill="#26a69a"/><rect x="707.0" y="300" width="3" height="18" fill="#26a69a"/><rect x="711.0" y="286" width="1" height="25" fill="#ef5350"/><rect x="710.0" y="300" width="3" height="1" fill="#ef5350"/><rect x="715.0" y="276" width="1" height="27" fill="#26a69a"/><rect x="714.0" y="286" width="3" height="16" fill="#26a69a"/><rect x="719.0" y="269" width="1" height="25" fill="#ef5350"/><rect x="718.0" y="286" width="3" height="1" fill="#ef5350"/><rect x="723.0" y="279" width="1" height="21" fill="#26a69a"/><rect x="722.0" y="281" width="3" height="7" fill="#26a69a"/><rect x="727.0" y="260" width="1" height="28" fill="#26a69a"/><rect x="726.0" y="271" width="3" height="11" fill="#26a69a"/><rect x="730.0" y="232" width="1" height="52" fill="#26a69a"/><rect x="729.0" y="241" width="3" height="31" fill="#26a69a"/><rect x="734.0" y="202" width="1" height="52" fill="#ef5350"/><rect x="733.0" y="241" width="3" height="4" fill="#ef5350"/><rect x="738.0" y="233" width="1" height="18" fill="#26a69a"/><rect x="737.0" y="237" width="3" height="8" fill="#26a69a"/><rect x="742.0" y="211" width="1" height="29" fill="#26a69a"/><rect x="741.0" y="222" width="3" height="16" fill="#26a69a"/><rect x="746.0" y="179" width="1" height="51" fill="#26a69a"/><rect x="745.0" y="205" width="3" height="18" fill="#26a69a"/><rect x="749.0" y="194" width="1" height="30" fill="#26a69a"/><rect x="748.0" y="197" width="3" height="9" fill="#26a69a"/><rect x="753.0" y="197" width="1" height="63" fill="#ef5350"/><rect x="752.0" y="197" width="3" height="48" fill="#ef5350"/><rect x="757.0" y="232" width="1" height="41" fill="#ef5350"/><rect x="756.0" y="244" width="3" height="6" fill="#ef5350"/><rect x="761.0" y="242" width="1" height="24" fill="#26a69a"/><rect x="760.0" y="244" width="3" height="6" fill="#26a69a"/><rect x="764.0" y="232" width="1" height="14" fill="#26a69a"/><rect x="763.0" y="242" width="3" height="3" fill="#26a69a"/><rect x="768.0" y="231" width="1" height="14" fill="#26a69a"/><rect x="767.0" y="235" width="3" height="8" fill="#26a69a"/><rect x="772.0" y="223" width="1" height="37" fill="#ef5350"/><rect x="771.0" y="235" width="3" height="22" fill="#ef5350"/><rect x="776.0" y="247" width="1" height="22" fill="#ef5350"/><rect x="775.0" y="256" width="3" height="6" fill="#ef5350"/><rect x="780.0" y="258" width="1" height="31" fill="#ef5350"/><rect x="779.0" y="261" width="3" height="12" fill="#ef5350"/><rect x="783.0" y="258" width="1" height="28" fill="#ef5350"/><rect x="782.0" y="272" width="3" height="14" fill="#ef5350"/><rect x="787.0" y="283" width="1" height="24" fill="#ef5350"/><rect x="786.0" y="285" width="3" height="14" fill="#ef5350"/><rect x="791.0" y="291" width="1" height="23" fill="#ef5350"/><rect x="790.0" y="298" width="3" height="10" fill="#ef5350"/><rect x="795.0" y="289" width="1" height="23" fill="#26a69a"/><rect x="794.0" y="291" width="3" height="17" fill="#26a69a"/><rect x="799.0" y="274" width="1" height="18" fill="#26a69a"/><rect x="798.0" y="275" width="3" height="17" fill="#26a69a"/><rect x="802.0" y="273" width="1" height="25" fill="#ef5350"/><rect x="801.0" y="276" width="3" height="17" fill="#ef5350"/><rect x="806.0" y="280" width="1" height="20" fill="#26a69a"/><rect x="805.0" y="283" width="3" height="10" fill="#26a69a"/><rect x="810.0" y="258" width="1" height="29" fill="#26a69a"/><rect x="809.0" y="259" width="3" height="25" fill="#26a69a"/><rect x="814.0" y="249" width="1" height="16" fill="#26a69a"/><rect x="813.0" y="257" width="3" height="3" fill="#26a69a"/><rect x="818.0" y="241" width="1" height="17" fill="#26a69a"/><rect x="817.0" y="251" width="3" height="7" fill="#26a69a"/><rect x="821.0" y="234" width="1" height="27" fill="#ef5350"/><rect x="820.0" y="251" width="3" height="1" fill="#ef5350"/><rect x="825.0" y="234" width="1" height="36" fill="#ef5350"/><rect x="824.0" y="252" width="3" height="17" fill="#ef5350"/><rect x="829.0" y="222" width="1" height="48" fill="#26a69a"/><rect x="828.0" y="231" width="3" height="36" fill="#26a69a"/><rect x="833.0" y="188" width="1" height="47" fill="#26a69a"/><rect x="832.0" y="197" width="3" height="35" fill="#26a69a"/><rect x="837.0" y="136" width="1" height="75" fill="#26a69a"/><rect x="836.0" y="186" width="3" height="12" fill="#26a69a"/><rect x="840.0" y="165" width="1" height="29" fill="#26a69a"/><rect x="839.0" y="175" width="3" height="12" fill="#26a69a"/><rect x="844.0" y="158" width="1" height="41" fill="#ef5350"/><rect x="843.0" y="175" width="3" height="14" fill="#ef5350"/><rect x="848.0" y="153" width="1" height="44" fill="#26a69a"/><rect x="847.0" y="167" width="3" height="22" fill="#26a69a"/><rect x="852.0" y="163" width="1" height="43" fill="#ef5350"/><rect x="851.0" y="167" width="3" height="21" fill="#ef5350"/><rect x="856.0" y="168" width="1" height="61" fill="#ef5350"/><rect x="855.0" y="187" width="3" height="42" fill="#ef5350"/><rect x="859.0" y="203" width="1" height="30" fill="#26a69a"/><rect x="858.0" y="209" width="3" height="20" fill="#26a69a"/><rect x="863.0" y="203" width="1" height="25" fill="#ef5350"/><rect x="862.0" y="209" width="3" height="17" fill="#ef5350"/><rect x="867.0" y="177" width="1" height="64" fill="#26a69a"/><rect x="866.0" y="183" width="3" height="43" fill="#26a69a"/><rect x="871.0" y="179" width="1" height="25" fill="#ef5350"/><rect x="870.0" y="183" width="3" height="10" fill="#ef5350"/><rect x="875.0" y="165" width="1" height="41" fill="#ef5350"/><rect x="874.0" y="192" width="3" height="3" fill="#ef5350"/><rect x="878.0" y="184" width="1" height="53" fill="#ef5350"/><rect x="877.0" y="195" width="3" height="39" fill="#ef5350"/><rect x="882.0" y="213" width="1" height="25" fill="#26a69a"/><rect x="881.0" y="217" width="3" height="17" fill="#26a69a"/><rect x="886.0" y="211" width="1" height="16" fill="#ef5350"/><rect x="885.0" y="217" width="3" height="9" fill="#ef5350"/><rect x="890.0" y="210" width="1" height="20" fill="#26a69a"/><rect x="889.0" y="222" width="3" height="4" fill="#26a69a"/><rect x="894.0" y="217" width="1" height="30" fill="#ef5350"/><rect x="893.0" y="222" width="3" height="17" fill="#ef5350"/><rect x="897.0" y="229" width="1" height="20" fill="#ef5350"/><rect x="896.0" y="238" width="3" height="3" fill="#ef5350"/><rect x="901.0" y="232" width="1" height="15" fill="#ef5350"/><rect x="900.0" y="238" width="3" height="9" fill="#ef5350"/><rect x="905.0" y="228" width="1" height="34" fill="#ef5350"/><rect x="904.0" y="246" width="3" height="7" fill="#ef5350"/><rect x="909.0" y="233" width="1" height="20" fill="#26a69a"/><rect x="908.0" y="234" width="3" height="19" fill="#26a69a"/><rect x="913.0" y="229" width="1" height="10" fill="#26a69a"/><rect x="912.0" y="232" width="3" height="2" fill="#26a69a"/><rect x="916.0" y="230" width="1" height="21" fill="#ef5350"/><rect x="915.0" y="233" width="3" height="15" fill="#ef5350"/><rect x="920.0" y="226" width="1" height="24" fill="#26a69a"/><rect x="919.0" y="236" width="3" height="12" fill="#26a69a"/><rect x="924.0" y="233" width="1" height="12" fill="#ef5350"/><rect x="923.0" y="235" width="3" height="9" fill="#ef5350"/><rect x="928.0" y="230" width="1" height="13" fill="#26a69a"/><rect x="927.0" y="234" width="3" height="9" fill="#26a69a"/><rect x="932.0" y="216" width="1" height="20" fill="#26a69a"/><rect x="931.0" y="218" width="3" height="17" fill="#26a69a"/><rect x="935.0" y="202" width="1" height="22" fill="#26a69a"/><rect x="934.0" y="218" width="3" height="1" fill="#26a69a"/><rect x="939.0" y="201" width="1" height="20" fill="#26a69a"/><rect x="938.0" y="207" width="3" height="12" fill="#26a69a"/><rect x="943.0" y="200" width="1" height="17" fill="#26a69a"/><rect x="942.0" y="203" width="3" height="5" fill="#26a69a"/><rect x="947.0" y="190" width="1" height="19" fill="#26a69a"/><rect x="946.0" y="190" width="3" height="13" fill="#26a69a"/><rect x="951.0" y="171" width="1" height="21" fill="#26a69a"/><rect x="950.0" y="184" width="3" height="7" fill="#26a69a"/><rect x="954.0" y="183" width="1" height="27" fill="#ef5350"/><rect x="953.0" y="184" width="3" height="23" fill="#ef5350"/><rect x="958.0" y="198" width="1" height="27" fill="#ef5350"/><rect x="957.0" y="206" width="3" height="14" fill="#ef5350"/><rect x="962.0" y="208" width="1" height="16" fill="#26a69a"/><rect x="961.0" y="210" width="3" height="10" fill="#26a69a"/><rect x="966.0" y="189" width="1" height="31" fill="#26a69a"/><rect x="965.0" y="192" width="3" height="19" fill="#26a69a"/><rect x="970.0" y="179" width="1" height="20" fill="#26a69a"/><rect x="969.0" y="186" width="3" height="7" fill="#26a69a"/><rect x="973.0" y="179" width="1" height="28" fill="#ef5350"/><rect x="972.0" y="186" width="3" height="19" fill="#ef5350"/><rect x="977.0" y="196" width="1" height="10" fill="#26a69a"/><rect x="976.0" y="203" width="3" height="2" fill="#26a69a"/><rect x="981.0" y="198" width="1" height="15" fill="#ef5350"/><rect x="980.0" y="203" width="3" height="6" fill="#ef5350"/><rect x="985.0" y="206" width="1" height="53" fill="#ef5350"/><rect x="984.0" y="208" width="3" height="32" fill="#ef5350"/><rect x="989.0" y="237" width="1" height="14" fill="#ef5350"/><rect x="988.0" y="238" width="3" height="12" fill="#ef5350"/><rect x="992.0" y="236" width="1" height="22" fill="#26a69a"/><rect x="991.0" y="246" width="3" height="4" fill="#26a69a"/><rect x="996.0" y="245" width="1" height="32" fill="#ef5350"/><rect x="995.0" y="246" width="3" height="27" fill="#ef5350"/><rect x="1000.0" y="254" width="1" height="21" fill="#26a69a"/><rect x="999.0" y="257" width="3" height="16" fill="#26a69a"/><rect x="1004.0" y="255" width="1" height="10" fill="#ef5350"/><rect x="1003.0" y="257" width="3" height="6" fill="#ef5350"/><rect x="1007.0" y="246" width="1" height="25" fill="#26a69a"/><rect x="1006.0" y="248" width="3" height="15" fill="#26a69a"/><rect x="1011.0" y="244" width="1" height="15" fill="#ef5350"/><rect x="1010.0" y="248" width="3" height="2" fill="#ef5350"/><rect x="1015.0" y="245" width="1" height="19" fill="#26a69a"/><rect x="1014.0" y="248" width="3" height="1" fill="#26a69a"/><rect x="1019.0" y="225" width="1" height="29" fill="#26a69a"/><rect x="1018.0" y="225" width="3" height="24" fill="#26a69a"/><rect x="1023.0" y="211" width="1" height="22" fill="#26a69a"/><rect x="1022.0" y="215" width="3" height="11" fill="#26a69a"/><rect x="1026.0" y="203" width="1" height="24" fill="#ef5350"/><rect x="1025.0" y="215" width="3" height="7" fill="#ef5350"/><rect x="1030.0" y="216" width="1" height="19" fill="#ef5350"/><rect x="1029.0" y="218" width="3" height="14" fill="#ef5350"/><rect x="1034.0" y="209" width="1" height="29" fill="#ef5350"/><rect x="1033.0" y="231" width="3" height="3" fill="#ef5350"/><rect x="1038.0" y="209" width="1" height="26" fill="#26a69a"/><rect x="1037.0" y="214" width="3" height="20" fill="#26a69a"/><rect x="1042.0" y="211" width="1" height="32" fill="#ef5350"/><rect x="1041.0" y="214" width="3" height="29" fill="#ef5350"/><rect x="1045.0" y="225" width="1" height="23" fill="#26a69a"/><rect x="1044.0" y="231" width="3" height="12" fill="#26a69a"/><rect x="1049.0" y="231" width="1" height="25" fill="#ef5350"/><rect x="1048.0" y="232" width="3" height="13" fill="#ef5350"/><rect x="1053.0" y="239" width="1" height="292" fill="#ef5350"/><rect x="1052.0" y="244" width="3" height="97" fill="#ef5350"/><rect x="1057.0" y="314" width="1" height="39" fill="#ef5350"/><rect x="1056.0" y="340" width="3" height="3" fill="#ef5350"/><rect x="1061.0" y="300" width="1" height="49" fill="#26a69a"/><rect x="1060.0" y="305" width="3" height="38" fill="#26a69a"/><rect x="1064.0" y="286" width="1" height="24" fill="#26a69a"/><rect x="1063.0" y="290" width="3" height="16" fill="#26a69a"/><rect x="1068.0" y="288" width="1" height="38" fill="#ef5350"/><rect x="1067.0" y="290" width="3" height="17" fill="#ef5350"/><rect x="1072.0" y="297" width="1" height="31" fill="#ef5350"/><rect x="1071.0" y="306" width="3" height="17" fill="#ef5350"/><rect x="1076.0" y="313" width="1" height="28" fill="#ef5350"/><rect x="1075.0" y="322" width="3" height="13" fill="#ef5350"/><rect x="1080.0" y="329" width="1" height="33" fill="#ef5350"/><rect x="1079.0" y="334" width="3" height="12" fill="#ef5350"/><rect x="1083.0" y="337" width="1" height="9" fill="#26a69a"/><rect x="1082.0" y="340" width="3" height="6" fill="#26a69a"/><rect x="1087.0" y="324" width="1" height="22" fill="#26a69a"/><rect x="1086.0" y="330" width="3" height="11" fill="#26a69a"/><rect x="1091.0" y="318" width="1" height="20" fill="#26a69a"/><rect x="1090.0" y="325" width="3" height="6" fill="#26a69a"/><rect x="1095.0" y="313" width="1" height="26" fill="#ef5350"/><rect x="1094.0" y="325" width="3" height="12" fill="#ef5350"/><rect x="1099.0" y="334" width="1" height="21" fill="#ef5350"/><rect x="1098.0" y="336" width="3" height="11" fill="#ef5350"/><rect x="1102.0" y="330" width="1" height="17" fill="#26a69a"/><rect x="1101.0" y="336" width="3" height="11" fill="#26a69a"/><rect x="1106.0" y="324" width="1" height="14" fill="#26a69a"/><rect x="1105.0" y="329" width="3" height="8" fill="#26a69a"/><rect x="1110.0" y="327" width="1" height="6" fill="#ef5350"/><rect x="1109.0" y="329" width="3" height="1" fill="#ef5350"/><rect x="1114.0" y="311" width="1" height="23" fill="#26a69a"/><rect x="1113.0" y="315" width="3" height="16" fill="#26a69a"/><rect x="1118.0" y="309" width="1" height="16" fill="#ef5350"/><rect x="1117.0" y="315" width="3" height="9" fill="#ef5350"/><rect x="1121.0" y="318" width="1" height="21" fill="#ef5350"/><rect x="1120.0" y="323" width="3" height="12" fill="#ef5350"/><rect x="1125.0" y="326" width="1" height="19" fill="#ef5350"/><rect x="1124.0" y="334" width="3" height="4" fill="#ef5350"/><rect x="1129.0" y="333" width="1" height="33" fill="#ef5350"/><rect x="1128.0" y="337" width="3" height="22" fill="#ef5350"/><rect x="1133.0" y="348" width="1" height="12" fill="#26a69a"/><rect x="1132.0" y="354" width="3" height="5" fill="#26a69a"/><rect x="1137.0" y="349" width="1" height="8" fill="#26a69a"/><rect x="1136.0" y="352" width="3" height="3" fill="#26a69a"/><rect x="1140.0" y="348" width="1" height="14" fill="#ef5350"/><rect x="1139.0" y="352" width="3" height="2" fill="#ef5350"/><rect x="1144.0" y="352" width="1" height="46" fill="#ef5350"/><rect x="1143.0" y="352" width="3" height="32" fill="#ef5350"/><rect x="1148.0" y="378" width="1" height="39" fill="#ef5350"/><rect x="1147.0" y="383" width="3" height="18" fill="#ef5350"/><rect x="1152.0" y="387" width="1" height="27" fill="#26a69a"/><rect x="1151.0" y="390" width="3" height="11" fill="#26a69a"/><line x1="10" x2="1276.5" y1="390.5" y2="390.5" stroke="#26a69a" stroke-width="1" stroke-dasharray="1,2"/><line x1="829.3" y1="132.2" x2="1132.7" y2="221.1" stroke="#1a3a80" stroke-width="3" stroke-linecap="round"/><path d="M926,87.5 H1013.5 a8,8 0 0 1 8,8 V112.5 a8,8 0 0 1 -8,8 H926.5 L915.3,151 L918,111 V95.5 a8,8 0 0 1 8,-8 Z" fill="#fff" fill-opacity="0.85" stroke="#a8262f" stroke-width="1.5" stroke-linejoin="round"/><text x="969.5" y="108" font-family="Liberation Sans, sans-serif" font-size="12" fill="#9b1c26" text-anchor="middle" textLength="82" lengthAdjust="spacingAndGlyphs">Downtrend line</text><g transform="translate(1152.5,546.3)"><circle r="9.8" fill="none" stroke="#9c27b0" stroke-width="1.3"/><circle cx="6.8" cy="-6.7" r="4.2" fill="#fff"/><circle cx="6.8" cy="-6.7" r="2.7" fill="#f23645"/><path d="M2.6,-5.6 L-4.6,1.1 L-0.7,1.1 L-2.8,5.6 L4.6,-1.1 L0.7,-1.1 Z" fill="#9c27b0"/></g></g><text x="18" y="46" font-family="Liberation Sans, sans-serif" font-size="12" fill="#131722" textLength="184" lengthAdjust="spacingAndGlyphs" stroke="#131722" stroke-width="0.22">Cardano / TetherUS · 1D · Binance</text><text x="210.5" y="46" font-family="Liberation Sans, sans-serif" font-size="12" fill="#131722" textLength="7" lengthAdjust="spacingAndGlyphs" stroke="#131722" stroke-width="0.22">O</text><text x="217.5" y="46" font-family="Liberation Sans, sans-serif" font-size="12" fill="#26a69a" textLength="36.5" lengthAdjust="spacingAndGlyphs" stroke="#26a69a" stroke-width="0.22">0.5208</text><text x="261.5" y="46" font-family="Liberation Sans, sans-serif" font-size="12" fill="#131722" textLength="7" lengthAdjust="spacingAndGlyphs" stroke="#131722" stroke-width="0.22">H</text><text x="268.5" y="46" font-family="Liberation Sans, sans-serif" font-size="12" fill="#26a69a" textLength="36.5" lengthAdjust="spacingAndGlyphs" stroke="#26a69a" stroke-width="0.22">0.5453</text><text x="313" y="46" font-family="Liberation Sans, sans-serif" font-size="12" fill="#131722" textLength="5.5" lengthAdjust="spacingAndGlyphs" stroke="#131722" stroke-width="0.22">L</text><text x="318.5" y="46" font-family="Liberation Sans, sans-serif" font-size="12" fill="#26a69a" textLength="36.5" lengthAdjust="spacingAndGlyphs" stroke="#26a69a" stroke-width="0.22">0.4947</text><text x="361.5" y="46" font-family="Liberation Sans, sans-serif" font-size="12" fill="#131722" textLength="7" lengthAdjust="spacingAndGlyphs" stroke="#131722" stroke-width="0.22">C</text><text x="368.5" y="46" font-family="Liberation Sans, sans-serif" font-size="12" fill="#26a69a" textLength="36.5" lengthAdjust="spacingAndGlyphs" stroke="#26a69a" stroke-width="0.22">0.5404</text><text x="411.5" y="46" font-family="Liberation Sans, sans-serif" font-size="12" fill="#26a69a" textLength="91" lengthAdjust="spacingAndGlyphs" stroke="#26a69a" stroke-width="0.22">+0.0196 (+3.76%)</text><text x="18" y="63" font-family="Liberation Sans, sans-serif" font-size="12" fill="#131722" textLength="81.5" lengthAdjust="spacingAndGlyphs" stroke="#131722" stroke-width="0.22">EMA (20, close)</text><text x="107.5" y="63" font-family="Liberation Sans, sans-serif" font-size="12" fill="#2962ff" textLength="36" lengthAdjust="spacingAndGlyphs" stroke="#2962ff" stroke-width="0.22">0.6252</text><text x="18" y="80" font-family="Liberation Sans, sans-serif" font-size="12" fill="#131722" textLength="81" lengthAdjust="spacingAndGlyphs" stroke="#131722" stroke-width="0.22">SMA (50, close)</text><text x="107.5" y="80" font-family="Liberation Sans, sans-serif" font-size="12" fill="#f23645" textLength="36" lengthAdjust="spacingAndGlyphs" stroke="#f23645" stroke-width="0.22">0.7300</text><text x="18" y="579" font-family="Liberation Sans, sans-serif" font-size="12" fill="#131722" textLength="76" lengthAdjust="spacingAndGlyphs" stroke="#131722" stroke-width="0.22">RSI (14, close)</text><text x="101.5" y="579" font-family="Liberation Sans, sans-serif" font-size="12" fill="#7e57c2" textLength="29" lengthAdjust="spacingAndGlyphs" stroke="#7e57c2" stroke-width="0.22">31.81</text><text x="138.5" y="579" font-family="Liberation Sans, sans-serif" font-size="12" fill="#fdd835" textLength="29" lengthAdjust="spacingAndGlyphs" stroke="#fdd835" stroke-width="0.22">37.66</text><g clip-path="url(#rp)"><g clip-path="url(#obc)"><path d="M9.5,667.1 L13.5,676.7 L17.5,669.3 L20.5,653.8 L24.5,660.4 L28.5,666.6 L32.5,653.4 L36.5,636.8 L39.5,634.3 L43.5,626.0 L47.5,634.5 L51.5,663.2 L55.5,657.9 L58.5,660.5 L62.5,666.0 L66.5,664.7 L70.5,669.4 L73.5,667.6 L77.5,674.3 L81.5,679.5 L85.5,684.0 L89.5,675.1 L92.5,668.3 L96.5,674.1 L100.5,688.1 L104.5,709.3 L108.5,705.8 L111.5,719.0 L115.5,721.0 L119.5,725.9 L123.5,724.3 L127.5,725.7 L130.5,729.2 L134.5,713.0 L138.5,684.5 L142.5,676.0 L146.5,672.6 L149.5,676.1 L153.5,682.2 L157.5,685.3 L161.5,669.1 L165.5,687.4 L168.5,678.2 L172.5,666.4 L176.5,680.3 L180.5,675.3 L184.5,677.2 L187.5,702.3 L191.5,700.8 L195.5,709.9 L199.5,710.4 L203.5,713.6 L206.5,699.2 L210.5,596.6 L214.5,651.4 L218.5,640.9 L222.5,636.9 L225.5,648.2 L229.5,661.5 L233.5,663.5 L237.5,675.1 L241.5,681.9 L244.5,672.7 L248.5,670.4 L252.5,675.8 L256.5,669.3 L260.5,667.6 L263.5,675.0 L267.5,672.0 L271.5,675.0 L275.5,665.4 L279.5,671.1 L282.5,673.9 L286.5,674.5 L290.5,671.7 L294.5,665.8 L297.5,662.2 L301.5,666.9 L305.5,663.5 L309.5,673.4 L313.5,682.5 L316.5,685.7 L320.5,684.7 L324.5,678.9 L328.5,690.1 L332.5,684.7 L335.5,680.6 L339.5,682.8 L343.5,706.2 L347.5,700.2 L351.5,707.5 L354.5,676.5 L358.5,683.0 L362.5,677.3 L366.5,663.9 L370.5,671.3 L373.5,672.7 L377.5,681.5 L381.5,679.9 L385.5,677.2 L389.5,671.9 L392.5,671.0 L396.5,675.9 L400.5,673.1 L404.5,645.8 L408.5,639.1 L411.5,629.8 L415.5,635.4 L419.5,639.6 L423.5,642.0 L427.5,639.4 L430.5,647.6 L434.5,656.0 L438.5,643.0 L442.5,648.0 L446.5,647.0 L449.5,663.0 L453.5,671.1 L457.5,659.5 L461.5,665.7 L465.5,619.5 L468.5,616.4 L472.5,598.9 L476.5,619.6 L480.5,615.8 L484.5,612.0 L487.5,631.0 L491.5,648.4 L495.5,650.2 L499.5,658.2 L503.5,650.1 L506.5,659.2 L510.5,655.7 L514.5,646.4 L518.5,630.1 L522.5,660.4 L525.5,660.7 L529.5,655.0 L533.5,654.1 L537.5,656.1 L540.5,662.1 L544.5,675.1 L548.5,688.9 L552.5,690.3 L556.5,690.0 L559.5,686.2 L563.5,690.3 L567.5,698.9 L571.5,714.7 L575.5,692.1 L578.5,686.0 L582.5,682.3 L586.5,661.6 L590.5,654.6 L594.5,666.2 L597.5,684.4 L601.5,692.3 L605.5,699.0 L609.5,691.6 L613.5,694.1 L616.5,703.5 L620.5,704.9 L624.5,705.7 L628.5,715.7 L632.5,723.7 L635.5,728.3 L639.5,694.9 L643.5,691.3 L647.5,701.0 L651.5,706.4 L654.5,700.6 L658.5,696.2 L662.5,685.9 L666.5,689.7 L670.5,704.5 L673.5,673.8 L677.5,664.8 L681.5,679.2 L685.5,675.9 L689.5,668.7 L692.5,674.1 L696.5,666.6 L700.5,646.7 L704.5,622.5 L708.5,611.7 L711.5,613.0 L715.5,603.9 L719.5,605.1 L723.5,601.5 L727.5,595.7 L730.5,581.5 L734.5,587.4 L738.5,583.8 L742.5,577.6 L746.5,571.5 L749.5,568.9 L753.5,627.2 L757.5,631.9 L761.5,628.2 L764.5,626.9 L768.5,622.3 L772.5,645.2 L776.5,650.1 L780.5,660.2 L783.5,671.5 L787.5,681.7 L791.5,688.3 L795.5,671.5 L799.5,657.5 L802.5,672.1 L806.5,663.5 L810.5,645.2 L814.5,643.7 L818.5,639.4 L821.5,640.3 L825.5,657.0 L829.5,629.9 L833.5,612.3 L837.5,607.4 L840.5,602.7 L844.5,616.5 L848.5,606.5 L852.5,625.5 L856.5,655.4 L859.5,644.5 L863.5,655.5 L867.5,634.0 L871.5,640.4 L875.5,642.1 L878.5,665.4 L882.5,656.0 L886.5,661.3 L890.5,658.7 L894.5,669.1 L897.5,670.3 L901.5,673.9 L905.5,677.6 L909.5,663.5 L913.5,662.4 L916.5,673.4 L920.5,664.0 L924.5,669.8 L928.5,661.8 L932.5,649.8 L935.5,649.8 L939.5,641.7 L943.5,638.8 L947.5,629.6 L951.5,625.6 L954.5,649.0 L958.5,660.6 L962.5,652.5 L966.5,639.0 L970.5,634.9 L973.5,652.8 L977.5,651.3 L981.5,656.9 L985.5,681.9 L989.5,688.7 L992.5,684.7 L996.5,702.0 L1000.5,686.4 L1004.5,690.3 L1007.5,676.3 L1011.5,677.8 L1015.5,675.8 L1019.5,655.1 L1023.5,647.2 L1026.5,653.7 L1030.5,662.8 L1034.5,664.7 L1038.5,647.0 L1042.5,671.9 L1045.5,661.9 L1049.5,672.8 L1053.5,719.9 L1057.5,720.6 L1061.5,692.2 L1064.5,682.4 L1068.5,690.1 L1072.5,697.1 L1076.5,702.1 L1080.5,706.6 L1083.5,701.8 L1087.5,693.8 L1091.5,689.8 L1095.5,696.2 L1099.5,701.3 L1102.5,691.5 L1106.5,685.4 L1110.5,686.1 L1114.5,672.7 L1118.5,679.1 L1121.5,686.7 L1125.5,688.7 L1129.5,702.1 L1133.5,696.8 L1137.5,694.6 L1140.5,695.8 L1144.5,714.7 L1148.5,723.2 L1152.5,710.6 L1152.5,607.5 L9.5,607.5 Z" fill="url(#ob)"/></g><g clip-path="url(#osc)"><path d="M9.5,667.1 L13.5,676.7 L17.5,669.3 L20.5,653.8 L24.5,660.4 L28.5,666.6 L32.5,653.4 L36.5,636.8 L39.5,634.3 L43.5,626.0 L47.5,634.5 L51.5,663.2 L55.5,657.9 L58.5,660.5 L62.5,666.0 L66.5,664.7 L70.5,669.4 L73.5,667.6 L77.5,674.3 L81.5,679.5 L85.5,684.0 L89.5,675.1 L92.5,668.3 L96.5,674.1 L100.5,688.1 L104.5,709.3 L108.5,705.8 L111.5,719.0 L115.5,721.0 L119.5,725.9 L123.5,724.3 L127.5,725.7 L130.5,729.2 L134.5,713.0 L138.5,684.5 L142.5,676.0 L146.5,672.6 L149.5,676.1 L153.5,682.2 L157.5,685.3 L161.5,669.1 L165.5,687.4 L168.5,678.2 L172.5,666.4 L176.5,680.3 L180.5,675.3 L184.5,677.2 L187.5,702.3 L191.5,700.8 L195.5,709.9 L199.5,710.4 L203.5,713.6 L206.5,699.2 L210.5,596.6 L214.5,651.4 L218.5,640.9 L222.5,636.9 L225.5,648.2 L229.5,661.5 L233.5,663.5 L237.5,675.1 L241.5,681.9 L244.5,672.7 L248.5,670.4 L252.5,675.8 L256.5,669.3 L260.5,667.6 L263.5,675.0 L267.5,672.0 L271.5,675.0 L275.5,665.4 L279.5,671.1 L282.5,673.9 L286.5,674.5 L290.5,671.7 L294.5,665.8 L297.5,662.2 L301.5,666.9 L305.5,663.5 L309.5,673.4 L313.5,682.5 L316.5,685.7 L320.5,684.7 L324.5,678.9 L328.5,690.1 L332.5,684.7 L335.5,680.6 L339.5,682.8 L343.5,706.2 L347.5,700.2 L351.5,707.5 L354.5,676.5 L358.5,683.0 L362.5,677.3 L366.5,663.9 L370.5,671.3 L373.5,672.7 L377.5,681.5 L381.5,679.9 L385.5,677.2 L389.5,671.9 L392.5,671.0 L396.5,675.9 L400.5,673.1 L404.5,645.8 L408.5,639.1 L411.5,629.8 L415.5,635.4 L419.5,639.6 L423.5,642.0 L427.5,639.4 L430.5,647.6 L434.5,656.0 L438.5,643.0 L442.5,648.0 L446.5,647.0 L449.5,663.0 L453.5,671.1 L457.5,659.5 L461.5,665.7 L465.5,619.5 L468.5,616.4 L472.5,598.9 L476.5,619.6 L480.5,615.8 L484.5,612.0 L487.5,631.0 L491.5,648.4 L495.5,650.2 L499.5,658.2 L503.5,650.1 L506.5,659.2 L510.5,655.7 L514.5,646.4 L518.5,630.1 L522.5,660.4 L525.5,660.7 L529.5,655.0 L533.5,654.1 L537.5,656.1 L540.5,662.1 L544.5,675.1 L548.5,688.9 L552.5,690.3 L556.5,690.0 L559.5,686.2 L563.5,690.3 L567.5,698.9 L571.5,714.7 L575.5,692.1 L578.5,686.0 L582.5,682.3 L586.5,661.6 L590.5,654.6 L594.5,666.2 L597.5,684.4 L601.5,692.3 L605.5,699.0 L609.5,691.6 L613.5,694.1 L616.5,703.5 L620.5,704.9 L624.5,705.7 L628.5,715.7 L632.5,723.7 L635.5,728.3 L639.5,694.9 L643.5,691.3 L647.5,701.0 L651.5,706.4 L654.5,700.6 L658.5,696.2 L662.5,685.9 L666.5,689.7 L670.5,704.5 L673.5,673.8 L677.5,664.8 L681.5,679.2 L685.5,675.9 L689.5,668.7 L692.5,674.1 L696.5,666.6 L700.5,646.7 L704.5,622.5 L708.5,611.7 L711.5,613.0 L715.5,603.9 L719.5,605.1 L723.5,601.5 L727.5,595.7 L730.5,581.5 L734.5,587.4 L738.5,583.8 L742.5,577.6 L746.5,571.5 L749.5,568.9 L753.5,627.2 L757.5,631.9 L761.5,628.2 L764.5,626.9 L768.5,622.3 L772.5,645.2 L776.5,650.1 L780.5,660.2 L783.5,671.5 L787.5,681.7 L791.5,688.3 L795.5,671.5 L799.5,657.5 L802.5,672.1 L806.5,663.5 L810.5,645.2 L814.5,643.7 L818.5,639.4 L821.5,640.3 L825.5,657.0 L829.5,629.9 L833.5,612.3 L837.5,607.4 L840.5,602.7 L844.5,616.5 L848.5,606.5 L852.5,625.5 L856.5,655.4 L859.5,644.5 L863.5,655.5 L867.5,634.0 L871.5,640.4 L875.5,642.1 L878.5,665.4 L882.5,656.0 L886.5,661.3 L890.5,658.7 L894.5,669.1 L897.5,670.3 L901.5,673.9 L905.5,677.6 L909.5,663.5 L913.5,662.4 L916.5,673.4 L920.5,664.0 L924.5,669.8 L928.5,661.8 L932.5,649.8 L935.5,649.8 L939.5,641.7 L943.5,638.8 L947.5,629.6 L951.5,625.6 L954.5,649.0 L958.5,660.6 L962.5,652.5 L966.5,639.0 L970.5,634.9 L973.5,652.8 L977.5,651.3 L981.5,656.9 L985.5,681.9 L989.5,688.7 L992.5,684.7 L996.5,702.0 L1000.5,686.4 L1004.5,690.3 L1007.5,676.3 L1011.5,677.8 L1015.5,675.8 L1019.5,655.1 L1023.5,647.2 L1026.5,653.7 L1030.5,662.8 L1034.5,664.7 L1038.5,647.0 L1042.5,671.9 L1045.5,661.9 L1049.5,672.8 L1053.5,719.9 L1057.5,720.6 L1061.5,692.2 L1064.5,682.4 L1068.5,690.1 L1072.5,697.1 L1076.5,702.1 L1080.5,706.6 L1083.5,701.8 L1087.5,693.8 L1091.5,689.8 L1095.5,696.2 L1099.5,701.3 L1102.5,691.5 L1106.5,685.4 L1110.5,686.1 L1114.5,672.7 L1118.5,679.1 L1121.5,686.7 L1125.5,688.7 L1129.5,702.1 L1133.5,696.8 L1137.5,694.6 L1140.5,695.8 L1144.5,714.7 L1148.5,723.2 L1152.5,710.6 L1152.5,715.3 L9.5,715.3 Z" fill="url(#os)"/></g><path d="M9.5,661.5 L13.5,660.5 L17.5,658.9 L20.5,656.4 L24.5,654.4 L28.5,655.2 L32.5,655.0 L36.5,653.6 L39.5,652.0 L43.5,649.9 L47.5,650.1 L51.5,652.5 L55.5,654.6 L58.5,654.3 L62.5,654.2 L66.5,653.4 L70.5,653.4 L73.5,654.4 L77.5,655.4 L81.5,656.3 L85.5,658.5 L89.5,661.2 L92.5,663.6 L96.5,667.1 L100.5,670.9 L104.5,674.2 L108.5,677.6 L111.5,681.8 L115.5,685.7 L119.5,690.1 L123.5,694.0 L127.5,698.2 L130.5,702.1 L134.5,704.5 L138.5,704.5 L142.5,704.6 L146.5,704.9 L149.5,705.0 L153.5,704.6 L157.5,702.9 L161.5,700.3 L165.5,698.0 L168.5,695.0 L172.5,690.7 L176.5,687.6 L180.5,684.0 L184.5,680.2 L187.5,679.5 L191.5,680.6 L195.5,683.1 L199.5,685.8 L203.5,688.4 L206.5,689.7 L210.5,683.3 L214.5,682.1 L218.5,678.7 L222.5,675.8 L225.5,674.5 L229.5,673.1 L233.5,672.3 L237.5,672.2 L241.5,670.7 L244.5,668.7 L248.5,665.9 L252.5,663.4 L256.5,660.2 L260.5,658.0 L263.5,663.6 L267.5,665.0 L271.5,667.5 L275.5,669.5 L279.5,671.1 L282.5,672.0 L286.5,672.8 L290.5,672.6 L294.5,671.4 L297.5,670.7 L301.5,670.4 L305.5,669.5 L309.5,669.8 L313.5,670.9 L316.5,671.7 L320.5,672.6 L324.5,672.9 L328.5,674.6 L332.5,675.6 L335.5,676.1 L339.5,676.7 L343.5,679.1 L347.5,681.6 L351.5,684.8 L354.5,685.5 L358.5,686.9 L362.5,687.2 L366.5,685.9 L370.5,684.8 L373.5,684.0 L377.5,684.2 L381.5,683.4 L385.5,682.9 L389.5,682.3 L392.5,681.4 L396.5,679.3 L400.5,677.3 L404.5,672.9 L408.5,670.3 L411.5,666.5 L415.5,663.5 L419.5,661.7 L423.5,659.6 L427.5,657.3 L430.5,654.8 L434.5,653.1 L438.5,650.7 L442.5,649.0 L446.5,647.3 L449.5,646.3 L453.5,646.2 L457.5,647.2 L461.5,649.1 L465.5,648.3 L468.5,647.0 L472.5,644.1 L476.5,642.5 L480.5,640.8 L484.5,638.2 L487.5,636.5 L491.5,636.8 L495.5,637.0 L499.5,637.8 L503.5,636.9 L506.5,636.0 L510.5,635.8 L514.5,634.4 L518.5,635.1 L522.5,638.3 L525.5,642.7 L529.5,645.2 L533.5,648.0 L537.5,651.1 L540.5,653.3 L544.5,655.2 L548.5,658.0 L552.5,660.3 L556.5,663.1 L559.5,665.1 L563.5,667.5 L567.5,671.3 L571.5,677.3 L575.5,679.6 L578.5,681.4 L582.5,683.4 L586.5,683.9 L590.5,683.8 L594.5,684.1 L597.5,684.7 L601.5,685.0 L605.5,685.6 L609.5,685.7 L613.5,686.3 L616.5,687.2 L620.5,687.7 L624.5,687.0 L628.5,688.7 L632.5,691.4 L635.5,694.7 L639.5,697.1 L643.5,699.7 L647.5,702.2 L651.5,703.7 L654.5,704.3 L658.5,704.1 L662.5,703.7 L666.5,703.4 L670.5,703.5 L673.5,701.3 L677.5,698.4 L681.5,695.7 L685.5,692.3 L689.5,688.1 L692.5,686.6 L696.5,684.8 L700.5,680.9 L704.5,674.9 L708.5,668.6 L711.5,662.6 L715.5,656.8 L719.5,650.7 L723.5,643.4 L727.5,637.8 L730.5,631.9 L734.5,625.3 L738.5,618.7 L742.5,612.2 L746.5,604.9 L749.5,597.9 L753.5,596.5 L757.5,597.2 L761.5,598.4 L764.5,599.4 L768.5,600.7 L772.5,603.5 L776.5,607.0 L780.5,611.6 L783.5,618.1 L787.5,624.8 L791.5,632.3 L795.5,639.0 L799.5,645.1 L802.5,652.5 L806.5,655.1 L810.5,656.0 L814.5,657.1 L818.5,658.0 L821.5,659.3 L825.5,660.2 L829.5,658.7 L833.5,655.3 L837.5,650.7 L840.5,645.1 L844.5,639.9 L848.5,635.3 L852.5,633.0 L856.5,631.8 L859.5,630.5 L863.5,631.2 L867.5,630.5 L871.5,630.6 L875.5,630.7 L878.5,631.3 L882.5,633.2 L886.5,636.7 L890.5,640.3 L894.5,645.1 L897.5,648.9 L901.5,653.7 L905.5,657.4 L909.5,658.0 L913.5,659.3 L916.5,660.6 L920.5,662.7 L924.5,664.8 L928.5,666.2 L932.5,665.1 L935.5,664.7 L939.5,663.3 L943.5,661.9 L947.5,659.0 L951.5,655.8 L954.5,654.1 L958.5,652.9 L962.5,652.1 L966.5,650.4 L970.5,647.7 L973.5,646.9 L977.5,645.5 L981.5,645.2 L985.5,647.5 L989.5,650.2 L992.5,653.3 L996.5,657.8 L1000.5,661.9 L1004.5,666.5 L1007.5,668.5 L1011.5,669.7 L1015.5,671.3 L1019.5,672.5 L1023.5,673.4 L1026.5,673.4 L1030.5,674.3 L1034.5,674.8 L1038.5,672.3 L1042.5,671.1 L1045.5,669.5 L1049.5,667.4 L1053.5,669.8 L1057.5,672.0 L1061.5,673.1 L1064.5,673.4 L1068.5,674.4 L1072.5,677.4 L1076.5,681.4 L1080.5,685.2 L1083.5,687.9 L1087.5,690.0 L1091.5,693.1 L1095.5,694.8 L1099.5,697.6 L1102.5,699.0 L1106.5,696.5 L1110.5,694.0 L1114.5,692.6 L1118.5,692.4 L1121.5,692.2 L1125.5,691.6 L1129.5,691.6 L1133.5,690.9 L1137.5,690.3 L1140.5,690.5 L1144.5,692.3 L1148.5,694.2 L1152.5,694.9" fill="none" stroke="#fdd835" stroke-width="1" stroke-linejoin="round"/><path d="M9.5,667.1 L13.5,676.7 L17.5,669.3 L20.5,653.8 L24.5,660.4 L28.5,666.6 L32.5,653.4 L36.5,636.8 L39.5,634.3 L43.5,626.0 L47.5,634.5 L51.5,663.2 L55.5,657.9 L58.5,660.5 L62.5,666.0 L66.5,664.7 L70.5,669.4 L73.5,667.6 L77.5,674.3 L81.5,679.5 L85.5,684.0 L89.5,675.1 L92.5,668.3 L96.5,674.1 L100.5,688.1 L104.5,709.3 L108.5,705.8 L111.5,719.0 L115.5,721.0 L119.5,725.9 L123.5,724.3 L127.5,725.7 L130.5,729.2 L134.5,713.0 L138.5,684.5 L142.5,676.0 L146.5,672.6 L149.5,676.1 L153.5,682.2 L157.5,685.3 L161.5,669.1 L165.5,687.4 L168.5,678.2 L172.5,666.4 L176.5,680.3 L180.5,675.3 L184.5,677.2 L187.5,702.3 L191.5,700.8 L195.5,709.9 L199.5,710.4 L203.5,713.6 L206.5,699.2 L210.5,596.6 L214.5,651.4 L218.5,640.9 L222.5,636.9 L225.5,648.2 L229.5,661.5 L233.5,663.5 L237.5,675.1 L241.5,681.9 L244.5,672.7 L248.5,670.4 L252.5,675.8 L256.5,669.3 L260.5,667.6 L263.5,675.0 L267.5,672.0 L271.5,675.0 L275.5,665.4 L279.5,671.1 L282.5,673.9 L286.5,674.5 L290.5,671.7 L294.5,665.8 L297.5,662.2 L301.5,666.9 L305.5,663.5 L309.5,673.4 L313.5,682.5 L316.5,685.7 L320.5,684.7 L324.5,678.9 L328.5,690.1 L332.5,684.7 L335.5,680.6 L339.5,682.8 L343.5,706.2 L347.5,700.2 L351.5,707.5 L354.5,676.5 L358.5,683.0 L362.5,677.3 L366.5,663.9 L370.5,671.3 L373.5,672.7 L377.5,681.5 L381.5,679.9 L385.5,677.2 L389.5,671.9 L392.5,671.0 L396.5,675.9 L400.5,673.1 L404.5,645.8 L408.5,639.1 L411.5,629.8 L415.5,635.4 L419.5,639.6 L423.5,642.0 L427.5,639.4 L430.5,647.6 L434.5,656.0 L438.5,643.0 L442.5,648.0 L446.5,647.0 L449.5,663.0 L453.5,671.1 L457.5,659.5 L461.5,665.7 L465.5,619.5 L468.5,616.4 L472.5,598.9 L476.5,619.6 L480.5,615.8 L484.5,612.0 L487.5,631.0 L491.5,648.4 L495.5,650.2 L499.5,658.2 L503.5,650.1 L506.5,659.2 L510.5,655.7 L514.5,646.4 L518.5,630.1 L522.5,660.4 L525.5,660.7 L529.5,655.0 L533.5,654.1 L537.5,656.1 L540.5,662.1 L544.5,675.1 L548.5,688.9 L552.5,690.3 L556.5,690.0 L559.5,686.2 L563.5,690.3 L567.5,698.9 L571.5,714.7 L575.5,692.1 L578.5,686.0 L582.5,682.3 L586.5,661.6 L590.5,654.6 L594.5,666.2 L597.5,684.4 L601.5,692.3 L605.5,699.0 L609.5,691.6 L613.5,694.1 L616.5,703.5 L620.5,704.9 L624.5,705.7 L628.5,715.7 L632.5,723.7 L635.5,728.3 L639.5,694.9 L643.5,691.3 L647.5,701.0 L651.5,706.4 L654.5,700.6 L658.5,696.2 L662.5,685.9 L666.5,689.7 L670.5,704.5 L673.5,673.8 L677.5,664.8 L681.5,679.2 L685.5,675.9 L689.5,668.7 L692.5,674.1 L696.5,666.6 L700.5,646.7 L704.5,622.5 L708.5,611.7 L711.5,613.0 L715.5,603.9 L719.5,605.1 L723.5,601.5 L727.5,595.7 L730.5,581.5 L734.5,587.4 L738.5,583.8 L742.5,577.6 L746.5,571.5 L749.5,568.9 L753.5,627.2 L757.5,631.9 L761.5,628.2 L764.5,626.9 L768.5,622.3 L772.5,645.2 L776.5,650.1 L780.5,660.2 L783.5,671.5 L787.5,681.7 L791.5,688.3 L795.5,671.5 L799.5,657.5 L802.5,672.1 L806.5,663.5 L810.5,645.2 L814.5,643.7 L818.5,639.4 L821.5,640.3 L825.5,657.0 L829.5,629.9 L833.5,612.3 L837.5,607.4 L840.5,602.7 L844.5,616.5 L848.5,606.5 L852.5,625.5 L856.5,655.4 L859.5,644.5 L863.5,655.5 L867.5,634.0 L871.5,640.4 L875.5,642.1 L878.5,665.4 L882.5,656.0 L886.5,661.3 L890.5,658.7 L894.5,669.1 L897.5,670.3 L901.5,673.9 L905.5,677.6 L909.5,663.5 L913.5,662.4 L916.5,673.4 L920.5,664.0 L924.5,669.8 L928.5,661.8 L932.5,649.8 L935.5,649.8 L939.5,641.7 L943.5,638.8 L947.5,629.6 L951.5,625.6 L954.5,649.0 L958.5,660.6 L962.5,652.5 L966.5,639.0 L970.5,634.9 L973.5,652.8 L977.5,651.3 L981.5,656.9 L985.5,681.9 L989.5,688.7 L992.5,684.7 L996.5,702.0 L1000.5,686.4 L1004.5,690.3 L1007.5,676.3 L1011.5,677.8 L1015.5,675.8 L1019.5,655.1 L1023.5,647.2 L1026.5,653.7 L1030.5,662.8 L1034.5,664.7 L1038.5,647.0 L1042.5,671.9 L1045.5,661.9 L1049.5,672.8 L1053.5,719.9 L1057.5,720.6 L1061.5,692.2 L1064.5,682.4 L1068.5,690.1 L1072.5,697.1 L1076.5,702.1 L1080.5,706.6 L1083.5,701.8 L1087.5,693.8 L1091.5,689.8 L1095.5,696.2 L1099.5,701.3 L1102.5,691.5 L1106.5,685.4 L1110.5,686.1 L1114.5,672.7 L1118.5,679.1 L1121.5,686.7 L1125.5,688.7 L1129.5,702.1 L1133.5,696.8 L1137.5,694.6 L1140.5,695.8 L1144.5,714.7 L1148.5,723.2 L1152.5,710.6" fill="none" stroke="#7e57c2" stroke-width="2.8" stroke-linejoin="round" stroke-linecap="round"/></g><rect x="10" y="27" width="1332" height="739" fill="none" stroke="#eff0f3" stroke-width="2"/><rect x="1276.5" y="27" width="1" height="738.5" fill="#e6e7eb"/><rect x="10" y="559" width="1332" height="1" fill="#e6e7eb"/><rect x="10" y="738" width="1332" height="1" fill="#e6e7eb"/><rect x="10" y="152" width="1" height="23" fill="#ef5350"/><text x="1285" y="98.0" font-family="Liberation Sans, sans-serif" font-size="12" fill="#131722" textLength="35.5" lengthAdjust="spacingAndGlyphs" stroke="#131722" stroke-width="0.22">1.1000</text><text x="1285" y="150.9" font-family="Liberation Sans, sans-serif" font-size="12" fill="#131722" textLength="35.5" lengthAdjust="spacingAndGlyphs" stroke="#131722" stroke-width="0.22">1.0000</text><text x="1285" y="203.9" font-family="Liberation Sans, sans-serif" font-size="12" fill="#131722" textLength="35.5" lengthAdjust="spacingAndGlyphs" stroke="#131722" stroke-width="0.22">0.9000</text><text x="1285" y="256.85" font-family="Liberation Sans, sans-serif" font-size="12" fill="#131722" textLength="35.5" lengthAdjust="spacingAndGlyphs" stroke="#131722" stroke-width="0.22">0.8000</text><text x="1285" y="309.8" font-family="Liberation Sans, sans-serif" font-size="12" fill="#131722" textLength="35.5" lengthAdjust="spacingAndGlyphs" stroke="#131722" stroke-width="0.22">0.7000</text><text x="1285" y="362.70000000000005" font-family="Liberation Sans, sans-serif" font-size="12" fill="#131722" textLength="35.5" lengthAdjust="spacingAndGlyphs" stroke="#131722" stroke-width="0.22">0.6000</text><text x="1285" y="468.6" font-family="Liberation Sans, sans-serif" font-size="12" fill="#131722" textLength="35.5" lengthAdjust="spacingAndGlyphs" stroke="#131722" stroke-width="0.22">0.4000</text><text x="1285" y="521.6" font-family="Liberation Sans, sans-serif" font-size="12" fill="#131722" textLength="35.5" lengthAdjust="spacingAndGlyphs" stroke="#131722" stroke-width="0.22">0.3000</text><text x="1285.5" y="584.5999999999999" font-family="Liberation Sans, sans-serif" font-size="12" fill="#131722" textLength="29.5" lengthAdjust="spacingAndGlyphs" stroke="#131722" stroke-width="0.22">80.00</text><text x="1285.5" y="638.8" font-family="Liberation Sans, sans-serif" font-size="12" fill="#131722" textLength="29.5" lengthAdjust="spacingAndGlyphs" stroke="#131722" stroke-width="0.22">60.00</text><text x="1285.5" y="692.3" font-family="Liberation Sans, sans-serif" font-size="12" fill="#131722" textLength="29.5" lengthAdjust="spacingAndGlyphs" stroke="#131722" stroke-width="0.22">40.00</text><rect x="1280" y="31" width="58" height="26" rx="4" fill="#fff" stroke="#e0e3eb" stroke-width="1"/><text x="1289" y="48.5" font-family="Liberation Sans, sans-serif" font-size="12" fill="#131722" textLength="27.5" lengthAdjust="spacingAndGlyphs" stroke="#131722" stroke-width="0.22">USDT</text><path d="M1277,264 H1323.5 a2.5,2.5 0 0 1 2.5,2.5 V278.3 a2.5,2.5 0 0 1 -2.5,2.5 H1277 Z" fill="#0000ff"/><text x="1285" y="276.7" font-family="Liberation Sans, sans-serif" font-size="12" fill="#fff" textLength="35.5" lengthAdjust="spacingAndGlyphs" stroke="#fff" stroke-width="0.35">0.7500</text><path d="M1277,281.2 H1323.5 a2.5,2.5 0 0 1 2.5,2.5 V295.5 a2.5,2.5 0 0 1 -2.5,2.5 H1277 Z" fill="#f23645"/><text x="1285" y="293.90000000000003" font-family="Liberation Sans, sans-serif" font-size="12" fill="#fff" textLength="35.5" lengthAdjust="spacingAndGlyphs" stroke="#fff" stroke-width="0.35">0.7300</text><path d="M1276,281.2 H1228.5 a2.5,2.5 0 0 0 -2.5,2.5 V295.5 a2.5,2.5 0 0 0 2.5,2.5 H1276 Z" fill="#f23645"/><text x="1251.0" y="293.90000000000003" font-family="Liberation Sans, sans-serif" font-size="12" fill="#fff" text-anchor="middle" textLength="41" lengthAdjust="spacingAndGlyphs" stroke="#fff" stroke-width="0.35">SMA:MA</text><path d="M1277,337 H1323.5 a2.5,2.5 0 0 1 2.5,2.5 V351.3 a2.5,2.5 0 0 1 -2.5,2.5 H1277 Z" fill="#2962ff"/><text x="1285" y="349.7" font-family="Liberation Sans, sans-serif" font-size="12" fill="#fff" textLength="35.5" lengthAdjust="spacingAndGlyphs" stroke="#fff" stroke-width="0.35">0.6252</text><path d="M1276,337 H1247.5 a2.5,2.5 0 0 0 -2.5,2.5 V351.3 a2.5,2.5 0 0 0 2.5,2.5 H1276 Z" fill="#2962ff"/><text x="1260.5" y="349.7" font-family="Liberation Sans, sans-serif" font-size="12" fill="#fff" text-anchor="middle" textLength="22" lengthAdjust="spacingAndGlyphs" stroke="#fff" stroke-width="0.35">EMA</text><path d="M1277,427.2 H1323.5 a2.5,2.5 0 0 1 2.5,2.5 V441.5 a2.5,2.5 0 0 1 -2.5,2.5 H1277 Z" fill="#0000ff"/><text x="1285" y="439.90000000000003" font-family="Liberation Sans, sans-serif" font-size="12" fill="#fff" textLength="35.5" lengthAdjust="spacingAndGlyphs" stroke="#fff" stroke-width="0.35">0.5000</text><path d="M1277,382.5 H1334.5 a2.5,2.5 0 0 1 2.5,2.5 V424.5 a2.5,2.5 0 0 1 -2.5,2.5 H1277 Z" fill="#26a69a"/><path d="M1276,382.5 H1220.5 a2.5,2.5 0 0 0 -2.5,2.5 V397.0 a2.5,2.5 0 0 0 2.5,2.5 H1276 Z" fill="#26a69a"/><text x="1246.8" y="395.3" font-family="Liberation Sans, sans-serif" font-size="12" fill="#fff" text-anchor="middle" textLength="49" lengthAdjust="spacingAndGlyphs" stroke="#fff" stroke-width="0.35">ADAUSDT</text><text x="1285" y="395.3" font-family="Liberation Sans, sans-serif" font-size="12" fill="#fff" textLength="35.5" lengthAdjust="spacingAndGlyphs" stroke="#fff" stroke-width="0.35">0.5404</text><text x="1285" y="409.3" font-family="Liberation Sans, sans-serif" font-size="12" fill="#fff" textLength="43" lengthAdjust="spacingAndGlyphs" stroke="#fff" stroke-width="0.35">−45.38%</text><text x="1285" y="423.3" font-family="Liberation Sans, sans-serif" font-size="12" fill="#fff" textLength="46.5" lengthAdjust="spacingAndGlyphs" stroke="#fff" stroke-width="0.22" fill-opacity="0.75">08:56:54</text><path d="M1277,685.3 H1317.5 a2.5,2.5 0 0 1 2.5,2.5 V699.2 a2.5,2.5 0 0 1 -2.5,2.5 H1277 Z" fill="#fdd835"/><path d="M1276,685.3 H1199.5 a2.5,2.5 0 0 0 -2.5,2.5 V699.2 a2.5,2.5 0 0 0 2.5,2.5 H1276 Z" fill="#fdd835"/><text x="1236.5" y="697.8" font-family="Liberation Sans, sans-serif" font-size="12" fill="#131722" text-anchor="middle" textLength="70" lengthAdjust="spacingAndGlyphs" stroke="#131722" stroke-width="0.22">RSI-based MA</text><text x="1285" y="697.8" font-family="Liberation Sans, sans-serif" font-size="12" fill="#131722" textLength="29.5" lengthAdjust="spacingAndGlyphs" stroke="#131722" stroke-width="0.22">37.66</text><path d="M1277,702.3 H1317.5 a2.5,2.5 0 0 1 2.5,2.5 V716.5 a2.5,2.5 0 0 1 -2.5,2.5 H1277 Z" fill="#7e57c2"/><path d="M1276,702.3 H1253.5 a2.5,2.5 0 0 0 -2.5,2.5 V716.5 a2.5,2.5 0 0 0 2.5,2.5 H1276 Z" fill="#7e57c2"/><text x="1263.5" y="715" font-family="Liberation Sans, sans-serif" font-size="12" fill="#fff" text-anchor="middle" textLength="16" lengthAdjust="spacingAndGlyphs" stroke="#fff" stroke-width="0.35">RSI</text><text x="1285" y="715" font-family="Liberation Sans, sans-serif" font-size="12" fill="#fff" textLength="29.5" lengthAdjust="spacingAndGlyphs" stroke="#fff" stroke-width="0.35">31.81</text><text x="100.5" y="755.8" font-family="Liberation Sans, sans-serif" font-size="12" fill="#131722" text-anchor="middle" stroke="#131722" stroke-width="0.3">Feb</text><text x="206.5" y="755.8" font-family="Liberation Sans, sans-serif" font-size="12" fill="#131722" text-anchor="middle" stroke="#131722" stroke-width="0.3">Mar</text><text x="324.7" y="755.8" font-family="Liberation Sans, sans-serif" font-size="12" fill="#131722" text-anchor="middle" stroke="#131722" stroke-width="0.3">Apr</text><text x="438.5" y="755.8" font-family="Liberation Sans, sans-serif" font-size="12" fill="#131722" text-anchor="middle" stroke="#131722" stroke-width="0.3">May</text><text x="556.5" y="755.8" font-family="Liberation Sans, sans-serif" font-size="12" fill="#131722" text-anchor="middle" stroke="#131722" stroke-width="0.3">Jun</text><text x="670.5" y="755.8" font-family="Liberation Sans, sans-serif" font-size="12" fill="#131722" text-anchor="middle" stroke="#131722" stroke-width="0.3">Jul</text><text x="787.5" y="755.8" font-family="Liberation Sans, sans-serif" font-size="12" fill="#131722" text-anchor="middle" stroke="#131722" stroke-width="0.3">Aug</text><text x="905.6" y="755.8" font-family="Liberation Sans, sans-serif" font-size="12" fill="#131722" text-anchor="middle" stroke="#131722" stroke-width="0.3">Sep</text><text x="1019.5" y="755.8" font-family="Liberation Sans, sans-serif" font-size="12" fill="#131722" text-anchor="middle" stroke="#131722" stroke-width="0.3">Oct</text><text x="1137.5" y="755.8" font-family="Liberation Sans, sans-serif" font-size="12" fill="#131722" text-anchor="middle" stroke="#131722" stroke-width="0.3">Nov</text><text x="1250.5" y="755.8" font-family="Liberation Sans, sans-serif" font-size="12" fill="#131722" text-anchor="middle" stroke="#131722" stroke-width="0.3">Dec</text><g fill="#131722"><path d="M12,788 H24 V803 H17.8 V794 H12 Z"/><circle cx="29.1" cy="790.8" r="2.8"/><path d="M32.8,788 H41.9 L37,803 H28.4 Z"/></g><text x="49.3" y="803" font-family="Liberation Sans, sans-serif" font-size="20.5" fill="#131722" textLength="120.5" lengthAdjust="spacingAndGlyphs" font-weight="bold" stroke="#131722" stroke-width="0.22">TradingView</text></svg></body></html>
